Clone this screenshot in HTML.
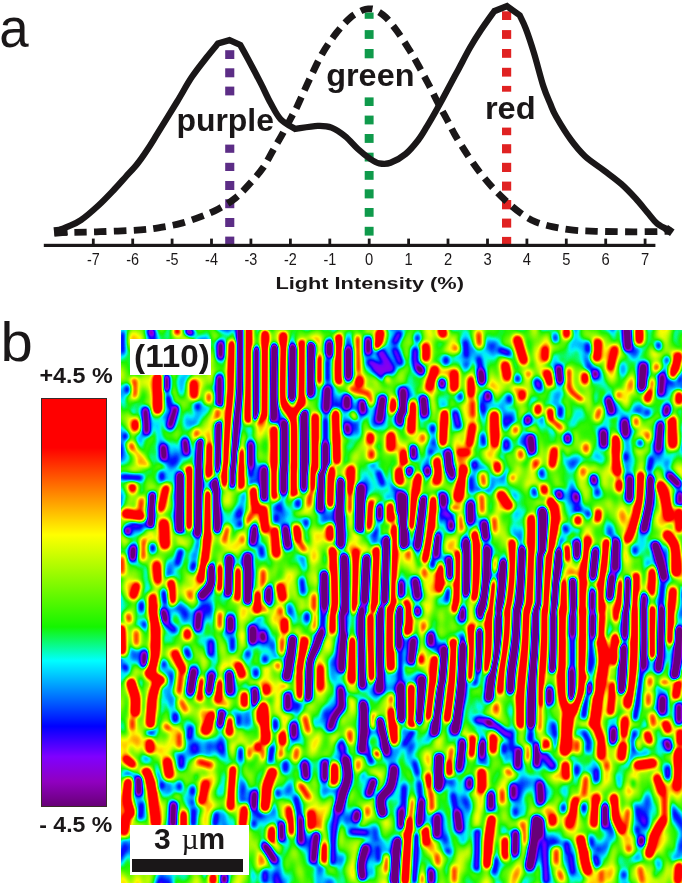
<!DOCTYPE html><html><head><meta charset="utf-8"><title>figure</title><style>
html,body{margin:0;padding:0;background:#fff;}body{width:685px;height:886px;position:relative;overflow:hidden;font-family:"Liberation Sans",sans-serif;color:#1a1718}
.abs{position:absolute}svg text{font-family:"Liberation Sans",sans-serif;opacity:0.995}
.t{position:absolute;white-space:nowrap;line-height:1;font-weight:bold}
</style></head><body>
<svg class="abs" style="left:0;top:0" width="685" height="320" viewBox="0 0 685 320">
<rect x="225.2" y="50.2" width="9.1" height="8.8" fill="#5c2d86"/><rect x="225.2" y="68.3" width="9.1" height="9.0" fill="#5c2d86"/><rect x="225.2" y="86.6" width="9.1" height="8.8" fill="#5c2d86"/><rect x="225.2" y="144.6" width="9.1" height="8.2" fill="#5c2d86"/><rect x="225.2" y="162.8" width="9.1" height="8.2" fill="#5c2d86"/><rect x="225.2" y="181.0" width="9.1" height="9.0" fill="#5c2d86"/><rect x="225.2" y="199.2" width="9.1" height="9.0" fill="#5c2d86"/><rect x="225.2" y="218.0" width="9.1" height="9.0" fill="#5c2d86"/><rect x="225.2" y="236.6" width="9.1" height="9.1" fill="#5c2d86"/>
<rect x="364.7" y="12.5" width="8.9" height="6.3" fill="#0f9a4b"/><rect x="364.7" y="30.1" width="8.9" height="8.8" fill="#0f9a4b"/><rect x="364.7" y="49.0" width="8.9" height="9.3" fill="#0f9a4b"/><rect x="364.7" y="97.4" width="8.9" height="8.6" fill="#0f9a4b"/><rect x="364.7" y="115.6" width="8.9" height="8.8" fill="#0f9a4b"/><rect x="364.7" y="134.0" width="8.9" height="8.9" fill="#0f9a4b"/><rect x="364.7" y="152.7" width="8.9" height="8.8" fill="#0f9a4b"/><rect x="364.7" y="171.0" width="8.9" height="8.8" fill="#0f9a4b"/><rect x="364.7" y="189.3" width="8.9" height="9.1" fill="#0f9a4b"/><rect x="364.7" y="208.0" width="8.9" height="8.8" fill="#0f9a4b"/><rect x="364.7" y="226.8" width="8.9" height="8.8" fill="#0f9a4b"/>
<rect x="502.0" y="11.3" width="9.2" height="8.7" fill="#e02222"/><rect x="502.0" y="30.1" width="9.2" height="8.8" fill="#e02222"/><rect x="502.0" y="49.0" width="9.2" height="8.8" fill="#e02222"/><rect x="502.0" y="67.8" width="9.2" height="8.8" fill="#e02222"/><rect x="502.0" y="85.9" width="9.2" height="5.8" fill="#e02222"/><rect x="502.0" y="127.6" width="9.2" height="7.6" fill="#e02222"/><rect x="502.0" y="144.2" width="9.2" height="9.1" fill="#e02222"/><rect x="502.0" y="162.8" width="9.2" height="9.2" fill="#e02222"/><rect x="502.0" y="181.6" width="9.2" height="9.0" fill="#e02222"/><rect x="502.0" y="200.0" width="9.2" height="9.3" fill="#e02222"/><rect x="502.0" y="218.6" width="9.2" height="9.0" fill="#e02222"/><rect x="502.0" y="236.9" width="9.2" height="9.1" fill="#e02222"/>
<rect x="43.8" y="243.8" width="611.6" height="3.2" fill="#1a1718"/>
<rect x="91.9" y="238.6" width="2.8" height="6" fill="#1a1718"/>
<text x="93.3" y="264.6" font-size="16.5" text-anchor="middle" textLength="12.8" lengthAdjust="spacingAndGlyphs" fill="#1a1718">-7</text>
<rect x="131.3" y="238.6" width="2.8" height="6" fill="#1a1718"/>
<text x="132.7" y="264.6" font-size="16.5" text-anchor="middle" textLength="12.8" lengthAdjust="spacingAndGlyphs" fill="#1a1718">-6</text>
<rect x="170.7" y="238.6" width="2.8" height="6" fill="#1a1718"/>
<text x="172.1" y="264.6" font-size="16.5" text-anchor="middle" textLength="12.8" lengthAdjust="spacingAndGlyphs" fill="#1a1718">-5</text>
<rect x="210.1" y="238.6" width="2.8" height="6" fill="#1a1718"/>
<text x="211.5" y="264.6" font-size="16.5" text-anchor="middle" textLength="12.8" lengthAdjust="spacingAndGlyphs" fill="#1a1718">-4</text>
<rect x="249.5" y="238.6" width="2.8" height="6" fill="#1a1718"/>
<text x="250.9" y="264.6" font-size="16.5" text-anchor="middle" textLength="12.8" lengthAdjust="spacingAndGlyphs" fill="#1a1718">-3</text>
<rect x="289.0" y="238.6" width="2.8" height="6" fill="#1a1718"/>
<text x="290.4" y="264.6" font-size="16.5" text-anchor="middle" textLength="12.8" lengthAdjust="spacingAndGlyphs" fill="#1a1718">-2</text>
<rect x="328.4" y="238.6" width="2.8" height="6" fill="#1a1718"/>
<text x="329.8" y="264.6" font-size="16.5" text-anchor="middle" textLength="12.8" lengthAdjust="spacingAndGlyphs" fill="#1a1718">-1</text>
<rect x="367.8" y="238.6" width="2.8" height="6" fill="#1a1718"/>
<text x="369.2" y="264.6" font-size="16.5" text-anchor="middle" textLength="8.2" lengthAdjust="spacingAndGlyphs" fill="#1a1718">0</text>
<rect x="407.2" y="238.6" width="2.8" height="6" fill="#1a1718"/>
<text x="408.6" y="264.6" font-size="16.5" text-anchor="middle" textLength="8.2" lengthAdjust="spacingAndGlyphs" fill="#1a1718">1</text>
<rect x="446.6" y="238.6" width="2.8" height="6" fill="#1a1718"/>
<text x="448.0" y="264.6" font-size="16.5" text-anchor="middle" textLength="8.2" lengthAdjust="spacingAndGlyphs" fill="#1a1718">2</text>
<rect x="486.1" y="238.6" width="2.8" height="6" fill="#1a1718"/>
<text x="487.5" y="264.6" font-size="16.5" text-anchor="middle" textLength="8.2" lengthAdjust="spacingAndGlyphs" fill="#1a1718">3</text>
<rect x="525.5" y="238.6" width="2.8" height="6" fill="#1a1718"/>
<text x="526.9" y="264.6" font-size="16.5" text-anchor="middle" textLength="8.2" lengthAdjust="spacingAndGlyphs" fill="#1a1718">4</text>
<rect x="564.9" y="238.6" width="2.8" height="6" fill="#1a1718"/>
<text x="566.3" y="264.6" font-size="16.5" text-anchor="middle" textLength="8.2" lengthAdjust="spacingAndGlyphs" fill="#1a1718">5</text>
<rect x="604.3" y="238.6" width="2.8" height="6" fill="#1a1718"/>
<text x="605.7" y="264.6" font-size="16.5" text-anchor="middle" textLength="8.2" lengthAdjust="spacingAndGlyphs" fill="#1a1718">6</text>
<rect x="643.7" y="238.6" width="2.8" height="6" fill="#1a1718"/>
<text x="645.1" y="264.6" font-size="16.5" text-anchor="middle" textLength="8.2" lengthAdjust="spacingAndGlyphs" fill="#1a1718">7</text>
<path d="M54.0,232.3C56.3,232.3 60.0,232.5 67.7,232.4C75.4,232.3 88.2,232.1 100.4,231.7C112.6,231.3 130.6,230.6 140.6,229.9C150.6,229.2 154.0,228.5 160.7,227.4C167.4,226.3 174.1,225.2 180.8,223.4C187.5,221.6 194.7,219.0 200.9,216.6C207.1,214.2 212.1,212.3 217.9,209.2C223.7,206.1 230.1,202.4 235.5,198.0C240.9,193.6 245.9,187.9 250.5,182.9C255.1,177.9 259.2,173.2 263.0,167.8C266.8,162.4 269.7,156.1 273.1,150.2C276.5,144.3 279.9,138.7 283.2,132.6C286.5,126.5 290.8,118.3 293.2,113.8C295.6,109.3 294.8,111.5 297.6,105.5C300.4,99.5 306.0,86.7 310.2,77.9C314.4,69.1 318.4,60.2 322.8,52.7C327.2,45.2 332.0,38.6 336.6,32.7C341.2,26.9 346.0,21.4 350.4,17.6C354.8,13.8 359.9,11.5 363.0,10.0C366.1,8.5 367.1,8.8 369.2,8.8C371.3,8.8 372.8,8.6 375.5,10.0C378.2,11.4 381.9,13.5 385.5,17.0C389.1,20.5 393.1,25.7 397.0,31.0C400.9,36.3 405.1,43.1 408.8,49.0C412.5,54.9 415.6,60.4 419.0,66.5C422.4,72.6 426.0,79.4 429.2,85.5C432.4,91.6 435.1,97.4 438.0,103.0C440.9,108.6 443.8,113.6 446.7,119.0C449.6,124.4 451.7,129.1 455.2,135.2C458.7,141.2 463.6,149.0 467.8,155.3C472.0,161.6 476.1,167.5 480.3,172.9C484.5,178.3 488.7,183.3 492.9,187.9C497.1,192.5 500.9,196.3 505.5,200.5C510.1,204.7 515.5,209.4 520.5,213.0C525.5,216.6 530.1,219.6 535.6,221.9C541.1,224.2 546.9,225.5 553.2,226.9C559.5,228.3 566.2,229.4 573.3,230.1C580.4,230.8 585.9,231.0 595.9,231.3C605.9,231.6 621.1,231.8 633.5,231.8C645.9,231.8 663.9,231.4 670.0,231.3" fill="none" stroke="#1a1718" stroke-width="6.8" stroke-dasharray="12.45 7.313" stroke-dashoffset="-0.62"/>
<path d="M56.0,231.5C58.0,230.7 63.6,228.6 67.7,226.7C71.9,224.8 75.8,223.6 80.9,220.1C86.0,216.6 92.7,210.7 98.4,205.5C104.1,200.3 110.3,193.6 114.9,188.8C119.5,184.0 122.3,180.6 126.0,176.5C129.7,172.4 133.6,168.5 137.2,164.0C140.8,159.5 144.2,154.5 147.5,149.5C150.8,144.5 152.2,142.1 157.1,134.2C162.0,126.3 171.1,111.5 176.9,102.0C182.7,92.5 186.8,84.5 191.8,77.1C196.8,69.6 202.3,62.9 206.7,57.3C211.0,51.7 216.0,45.9 217.9,43.6L229.5,40.2L240.2,44.9C241.5,47.2 244.6,52.7 248.0,59.0C251.4,65.3 256.8,75.6 260.6,82.9C264.4,90.2 267.2,96.9 270.6,103.0C274.0,109.1 276.6,115.0 280.7,119.3C284.8,123.6 292.7,127.4 295.1,129.0C298.9,128.5 311.6,126.1 317.7,125.9C323.8,125.7 326.9,125.8 331.5,127.6C336.1,129.3 340.9,132.8 345.3,136.4C349.7,140.0 353.7,145.2 357.9,149.0C362.1,152.8 366.8,156.6 370.4,159.0C373.9,161.4 375.8,162.7 379.2,163.3C382.6,163.9 386.1,164.4 390.5,162.8C394.9,161.2 401.0,157.8 405.6,154.0C410.2,150.2 414.5,144.8 418.1,140.2C421.7,135.6 423.8,131.6 427.0,126.4C430.2,121.2 433.9,114.7 437.2,108.8C440.5,102.9 443.2,97.9 446.7,91.3C450.2,84.7 454.5,76.7 458.4,69.4C462.3,62.1 466.3,54.1 470.1,47.5C473.9,40.9 477.0,36.0 481.0,30.0C485.0,24.0 492.0,14.3 494.2,11.2L507.0,6.1L519.7,15.3C520.7,17.5 523.4,22.3 525.8,28.6C528.2,34.9 531.1,43.6 534.0,53.1C536.9,62.6 540.5,77.3 543.2,85.8C545.9,94.3 548.2,98.9 550.4,104.0C552.5,109.1 552.7,110.6 556.1,116.5C559.5,122.4 565.8,132.8 570.6,139.4C575.4,146.0 579.4,151.0 585.0,156.2C590.6,161.4 598.3,166.1 604.3,170.7C610.3,175.3 616.0,179.3 621.2,183.9C626.4,188.5 631.2,193.6 635.6,198.4C640.0,203.2 644.1,208.6 647.7,212.8C651.3,217.0 653.5,220.7 657.3,223.7C661.1,226.7 668.3,229.7 670.5,230.9" fill="none" stroke="#1a1718" stroke-width="6.3" stroke-linejoin="miter" stroke-miterlimit="6"/>
<rect x="54" y="226.7" width="13.5" height="9.5" fill="#1a1718" transform="rotate(-6 60 231.5)"/>
<rect x="665" y="226.5" width="8" height="8" fill="#1a1718" transform="rotate(35 669 230.5)"/>
<text x="176.4" y="130.8" font-size="31" font-weight="bold" textLength="97.6" lengthAdjust="spacingAndGlyphs" fill="#1a1718">purple</text>
<text x="326.2" y="85.5" font-size="31.5" font-weight="bold" textLength="88.3" lengthAdjust="spacingAndGlyphs" fill="#1a1718">green</text>
<text x="484.9" y="118.8" font-size="31.3" font-weight="bold" textLength="50.8" lengthAdjust="spacingAndGlyphs" fill="#1a1718">red</text>
<text x="275.4" y="289" font-size="17.3" font-weight="bold" textLength="188.5" lengthAdjust="spacingAndGlyphs" fill="#1a1718">Light Intensity (%)</text>
<text x="-0.7" y="46.8" font-size="55.5" textLength="29.4" lengthAdjust="spacingAndGlyphs" fill="#1a1718">a</text>
</svg>
<svg class="abs" style="left:0;top:310px" width="60" height="70"><text x="0.4" y="50.9" font-size="55.5" textLength="32.3" lengthAdjust="spacingAndGlyphs" fill="#1a1718">b</text></svg>
<svg class="abs" style="left:0;top:355px" width="125" height="40"><text x="39.5" y="27.7" font-size="21.2" font-weight="bold" textLength="73.2" lengthAdjust="spacingAndGlyphs" fill="#1a1718">+4.5 %</text></svg>
<svg class="abs" style="left:0;top:808px" width="125" height="40"><text x="39.3" y="24" font-size="21.6" font-weight="bold" textLength="73" lengthAdjust="spacingAndGlyphs" fill="#1a1718">- 4.5 %</text></svg>
<div class="abs" style="left:40.6px;top:398.3px;width:66px;height:408.4px;box-sizing:border-box;border:1px solid #3a2a2a;background:linear-gradient(to bottom,rgb(255,0,0) 0.0%,rgb(255,0,0) 12.0%,rgb(255,255,0) 33.4%,rgb(20,245,0) 56.0%,rgb(0,255,255) 64.3%,rgb(0,0,255) 80.4%,rgb(128,0,255) 87.9%,rgb(144,0,192) 94.0%,rgb(104,0,120) 100.0%)"></div>
<div class="abs" style="left:121.0px;top:330.3px;width:561.0px;height:552.3px;overflow:hidden">
<svg style="position:absolute;left:-20px;top:-20px" width="601.0" height="592.3" viewBox="101.0 310.3 601.0 592.3">
<defs><filter id="hm" filterUnits="userSpaceOnUse" x="101.0" y="310.3" width="601.0" height="592.3" color-interpolation-filters="sRGB">
<feTurbulence type="fractalNoise" baseFrequency="0.055 0.03" numOctaves="2" seed="7" result="n"/>
<feColorMatrix in="n" type="matrix" values="0.85 0 0 0 0.045  0.85 0 0 0 0.045  0.85 0 0 0 0.045  0 0 0 0 1" result="ng"/>
<feComposite in="SourceGraphic" in2="ng" operator="over" result="m"/>
<feGaussianBlur in="m" stdDeviation="2.0" result="bl"/>
<feComponentTransfer in="bl"><feFuncR type="table" tableValues="0.408 0.408 0.408 0.408 0.408 0.408 0.408 0.477 0.545 0.545 0.518 0.431 0.255 0.079 0.000 0.000 0.000 0.000 0.000 0.000 0.011 0.036 0.061 0.108 0.216 0.323 0.430 0.538 0.645 0.752 0.860 0.967 1.000 1.000 1.000 1.000 1.000 1.000 1.000 1.000 1.000 1.000 1.000 1.000 1.000 1.000 1.000 1.000 1.000 1.000 1.000"/><feFuncG type="table" tableValues="0.000 0.000 0.000 0.000 0.000 0.000 0.000 0.000 0.000 0.000 0.000 0.000 0.000 0.000 0.090 0.254 0.417 0.581 0.744 0.907 0.995 0.982 0.970 0.962 0.967 0.971 0.976 0.980 0.985 0.989 0.994 0.999 0.915 0.792 0.669 0.546 0.423 0.300 0.177 0.054 0.000 0.000 0.000 0.000 0.000 0.000 0.000 0.000 0.000 0.000 0.000"/><feFuncB type="table" tableValues="0.471 0.471 0.471 0.471 0.471 0.471 0.471 0.594 0.718 0.830 0.936 1.000 1.000 1.000 1.000 1.000 1.000 1.000 1.000 1.000 0.862 0.545 0.228 0.000 0.000 0.000 0.000 0.000 0.000 0.000 0.000 0.000 0.000 0.000 0.000 0.000 0.000 0.000 0.000 0.000 0.000 0.000 0.000 0.000 0.000 0.000 0.000 0.000 0.000 0.000 0.000"/></feComponentTransfer>
</filter></defs>
<g filter="url(#hm)" fill="none" stroke-linecap="round" stroke-linejoin="round">
<rect x="101.0" y="310.3" width="1" height="1" fill="none" stroke="none"/>
<path d="M157.8,378.0L157.8,409.7" stroke="rgb(181,181,181)" stroke-width="9.6"/>
<path d="M193.6,383.5L194.0,395.4" stroke="rgb(181,181,181)" stroke-width="11.5"/>
<path d="M232.0,344.3C231.7,352.1 231.1,376.7 230.4,391.3C229.6,406.0 228.1,419.1 227.3,432.2C226.4,445.3 225.6,463.7 225.3,470.0" stroke="rgb(181,181,181)" stroke-width="8.7"/>
<path d="M248.3,330.0L248.3,419.9" stroke="rgb(181,181,181)" stroke-width="9.1"/>
<path d="M209.9,446.5L209.9,470.0" stroke="rgb(181,181,181)" stroke-width="11.5"/>
<path d="M241.0,452.6L241.0,470.0" stroke="rgb(181,181,181)" stroke-width="11.5"/>
<path d="M135.3,423.0L135.3,428.1" stroke="rgb(181,181,181)" stroke-width="10.8"/>
<path d="M134.3,381.1L134.3,395.4" stroke="rgb(162,162,162)" stroke-width="10.8"/>
<path d="M177.2,331.0L177.2,332.0" stroke="rgb(181,181,181)" stroke-width="10.1"/>
<path d="M166.0,378.0L166.0,389.3" stroke="rgb(74,74,74)" stroke-width="10.8"/>
<path d="M145.5,410.7L146.6,432.2" stroke="rgb(74,74,74)" stroke-width="10.8"/>
<path d="M175.2,408.7L170.1,426.1" stroke="rgb(74,74,74)" stroke-width="10.8"/>
<path d="M163.3,447.5L163.9,457.7" stroke="rgb(74,74,74)" stroke-width="11.5"/>
<path d="M220.6,344.3L220.6,356.6" stroke="rgb(74,74,74)" stroke-width="10.8"/>
<path d="M219.5,378.0L219.5,405.6" stroke="rgb(74,74,74)" stroke-width="10.8"/>
<path d="M240.2,330.0C240.1,340.2 240.2,376.0 239.6,391.3C238.9,406.6 237.5,408.9 236.5,422.0C235.5,435.1 233.9,462.0 233.4,470.0" stroke="rgb(74,74,74)" stroke-width="8.8"/>
<path d="M256.5,350.4L255.9,417.9" stroke="rgb(74,74,74)" stroke-width="8.8"/>
<path d="M250.8,444.4L250.8,470.0" stroke="rgb(74,74,74)" stroke-width="10.8"/>
<path d="M200.1,441.4L198.7,470.0" stroke="rgb(74,74,74)" stroke-width="8.8"/>
<path d="M185.0,441.4L186.4,452.6" stroke="rgb(74,74,74)" stroke-width="10.8"/>
<path d="M218.5,423.0L217.7,470.0" stroke="rgb(74,74,74)" stroke-width="8.8"/>
<path d="M265.1,334.1L265.1,415.8" stroke="rgb(181,181,181)" stroke-width="9.6"/>
<path d="M283.5,336.1C283.4,346.3 281.7,384.5 282.9,397.4C284.1,410.4 288.9,409.0 290.7,413.8C292.5,418.6 293.2,416.7 293.7,426.1C294.2,435.4 293.7,462.7 293.7,470.0" stroke="rgb(181,181,181)" stroke-width="9.6"/>
<path d="M301.9,344.3C301.9,353.2 302.7,386.2 301.9,397.4C301.0,408.7 297.6,409.4 296.8,411.7" stroke="rgb(181,181,181)" stroke-width="9.6"/>
<path d="M319.3,358.6L319.3,381.1" stroke="rgb(181,181,181)" stroke-width="10.8"/>
<path d="M338.7,338.2L338.7,381.1" stroke="rgb(181,181,181)" stroke-width="9.6"/>
<path d="M357.7,338.2L358.1,370.9" stroke="rgb(162,162,162)" stroke-width="7.9"/>
<path d="M359.1,380.1L359.1,384.2" stroke="rgb(181,181,181)" stroke-width="12.3"/>
<path d="M380.2,333.1L377.5,347.4" stroke="rgb(181,181,181)" stroke-width="12.3"/>
<path d="M274.3,430.1L274.3,470.0" stroke="rgb(181,181,181)" stroke-width="9.6"/>
<path d="M315.2,417.9L315.2,470.0" stroke="rgb(181,181,181)" stroke-width="9.6"/>
<path d="M335.6,413.8L336.6,460.8" stroke="rgb(181,181,181)" stroke-width="9.6"/>
<path d="M393.9,402.6L393.9,409.7" stroke="rgb(181,181,181)" stroke-width="12.3"/>
<path d="M390.8,436.3L390.8,447.5" stroke="rgb(181,181,181)" stroke-width="12.3"/>
<path d="M370.4,436.3L370.4,441.4" stroke="rgb(181,181,181)" stroke-width="10.8"/>
<path d="M371.4,452.6L371.4,456.7" stroke="rgb(162,162,162)" stroke-width="12.3"/>
<path d="M260.0,417.9L260.0,422.0" stroke="rgb(181,181,181)" stroke-width="10.1"/>
<path d="M368.3,393.4L370.4,401.5" stroke="rgb(162,162,162)" stroke-width="10.1"/>
<path d="M274.3,348.4L273.3,417.9" stroke="rgb(74,74,74)" stroke-width="10.7"/>
<path d="M292.7,348.4L291.7,397.4" stroke="rgb(74,74,74)" stroke-width="10.7"/>
<path d="M311.1,346.3L310.1,393.4" stroke="rgb(74,74,74)" stroke-width="10.7"/>
<path d="M329.5,344.3L329.5,354.5" stroke="rgb(74,74,74)" stroke-width="12.3"/>
<path d="M327.4,389.3L326.4,409.7" stroke="rgb(74,74,74)" stroke-width="12.3"/>
<path d="M348.3,350.4L348.3,377.0" stroke="rgb(74,74,74)" stroke-width="12.3"/>
<path d="M346.9,398.5L346.9,406.6" stroke="rgb(74,74,74)" stroke-width="12.3"/>
<path d="M362.2,402.6L363.2,411.7" stroke="rgb(74,74,74)" stroke-width="10.8"/>
<path d="M382.6,399.5L379.6,419.9" stroke="rgb(74,74,74)" stroke-width="12.3"/>
<path d="M384.7,358.6L385.1,363.7" stroke="rgb(74,74,74)" stroke-width="10.1"/>
<path d="M284.5,424.0L284.5,470.0" stroke="rgb(74,74,74)" stroke-width="10.7"/>
<path d="M303.9,413.8L304.6,470.0" stroke="rgb(74,74,74)" stroke-width="10.7"/>
<path d="M325.4,444.4L325.4,470.0" stroke="rgb(74,74,74)" stroke-width="12.3"/>
<path d="M325.4,419.9L325.4,440.4" stroke="rgb(95,95,95)" stroke-width="10.8"/>
<path d="M346.9,426.1L347.9,432.2" stroke="rgb(74,74,74)" stroke-width="10.8"/>
<path d="M368.3,340.2L368.3,352.5" stroke="rgb(74,74,74)" stroke-width="10.8"/>
<path d="M370.4,362.7L386.7,370.9" stroke="rgb(95,95,95)" stroke-width="13.7"/>
<path d="M399.0,334.1L394.9,342.3" stroke="rgb(95,95,95)" stroke-width="12.3"/>
<path d="M400.0,411.7L400.0,422.0" stroke="rgb(74,74,74)" stroke-width="12.3"/>
<path d="M425.5,347.4L425.5,357.6" stroke="rgb(181,181,181)" stroke-width="12.3"/>
<path d="M434.7,369.9L429.6,387.2" stroke="rgb(181,181,181)" stroke-width="12.3"/>
<path d="M454.2,373.9L454.2,388.2" stroke="rgb(181,181,181)" stroke-width="12.3"/>
<path d="M471.5,380.1L471.1,395.4" stroke="rgb(181,181,181)" stroke-width="10.8"/>
<path d="M412.3,405.6L411.2,430.1" stroke="rgb(181,181,181)" stroke-width="12.3"/>
<path d="M444.6,413.8L442.9,442.4" stroke="rgb(181,181,181)" stroke-width="9.6"/>
<path d="M494.4,415.8L495.0,443.4" stroke="rgb(181,181,181)" stroke-width="13.0"/>
<path d="M505.3,365.8L507.3,377.0" stroke="rgb(181,181,181)" stroke-width="12.3"/>
<path d="M517.5,340.2L523.6,360.7" stroke="rgb(181,181,181)" stroke-width="12.3"/>
<path d="M522.2,393.4L522.2,397.4" stroke="rgb(181,181,181)" stroke-width="10.8"/>
<path d="M441.9,330.0L442.9,334.1" stroke="rgb(181,181,181)" stroke-width="12.3"/>
<path d="M538.0,407.7L538.0,411.7" stroke="rgb(181,181,181)" stroke-width="10.8"/>
<path d="M472.6,426.1L469.5,444.4" stroke="rgb(181,181,181)" stroke-width="10.8"/>
<path d="M472.6,402.6L472.6,415.8" stroke="rgb(162,162,162)" stroke-width="11.5"/>
<path d="M459.3,452.6L467.4,452.6" stroke="rgb(181,181,181)" stroke-width="10.8"/>
<path d="M404.1,453.6L404.1,462.8" stroke="rgb(181,181,181)" stroke-width="12.3"/>
<path d="M437.2,461.8L437.2,470.0" stroke="rgb(181,181,181)" stroke-width="12.3"/>
<path d="M515.5,429.1L515.5,431.2" stroke="rgb(162,162,162)" stroke-width="10.8"/>
<path d="M528.3,373.9L528.8,375.0" stroke="rgb(162,162,162)" stroke-width="10.1"/>
<path d="M478.7,334.1L479.3,344.3" stroke="rgb(162,162,162)" stroke-width="10.8"/>
<path d="M520.6,452.6L521.0,456.7" stroke="rgb(162,162,162)" stroke-width="10.8"/>
<path d="M422.5,436.3L422.9,440.4" stroke="rgb(162,162,162)" stroke-width="10.1"/>
<path d="M535.9,462.8L535.9,466.9" stroke="rgb(162,162,162)" stroke-width="12.3"/>
<path d="M497.1,464.9L497.7,470.0" stroke="rgb(181,181,181)" stroke-width="10.8"/>
<path d="M455.2,347.4L455.6,349.4" stroke="rgb(162,162,162)" stroke-width="10.1"/>
<path d="M415.3,350.4C415.3,352.5 414.5,359.3 415.3,362.7C416.2,366.1 419.6,369.5 420.4,370.9" stroke="rgb(95,95,95)" stroke-width="12.3"/>
<path d="M418.4,367.8L421.5,371.9" stroke="rgb(74,74,74)" stroke-width="10.8"/>
<path d="M446.0,358.6L446.0,362.7" stroke="rgb(95,95,95)" stroke-width="10.8"/>
<path d="M441.9,382.1L441.9,385.2" stroke="rgb(74,74,74)" stroke-width="10.8"/>
<path d="M465.4,342.3L466.4,356.6" stroke="rgb(95,95,95)" stroke-width="10.8"/>
<path d="M480.7,370.9L481.7,381.1" stroke="rgb(74,74,74)" stroke-width="12.3"/>
<path d="M478.7,358.6L480.7,368.8" stroke="rgb(95,95,95)" stroke-width="10.8"/>
<path d="M487.9,394.4L487.9,398.5" stroke="rgb(74,74,74)" stroke-width="10.8"/>
<path d="M423.5,399.5L424.5,413.8" stroke="rgb(74,74,74)" stroke-width="12.3"/>
<path d="M403.1,391.3L403.1,411.7" stroke="rgb(74,74,74)" stroke-width="12.3"/>
<path d="M455.2,413.8L458.2,426.1" stroke="rgb(95,95,95)" stroke-width="12.3"/>
<path d="M432.7,427.1L432.7,431.2" stroke="rgb(95,95,95)" stroke-width="10.8"/>
<path d="M460.3,395.4L460.3,398.5" stroke="rgb(95,95,95)" stroke-width="10.1"/>
<path d="M500.1,350.4L508.3,353.5" stroke="rgb(95,95,95)" stroke-width="11.5"/>
<path d="M517.5,378.0L517.5,380.1" stroke="rgb(95,95,95)" stroke-width="10.8"/>
<path d="M509.3,397.4L509.3,401.5" stroke="rgb(95,95,95)" stroke-width="10.8"/>
<path d="M527.7,418.9L527.7,422.0" stroke="rgb(74,74,74)" stroke-width="10.8"/>
<path d="M530.8,438.3L531.8,450.6" stroke="rgb(74,74,74)" stroke-width="12.3"/>
<path d="M506.3,442.4L506.3,447.5" stroke="rgb(95,95,95)" stroke-width="12.3"/>
<path d="M413.3,448.5L413.3,456.7" stroke="rgb(74,74,74)" stroke-width="10.8"/>
<path d="M448.0,453.6L449.0,470.0" stroke="rgb(74,74,74)" stroke-width="12.3"/>
<path d="M474.6,463.9L474.6,466.9" stroke="rgb(95,95,95)" stroke-width="12.3"/>
<path d="M536.9,382.1L538.0,386.2" stroke="rgb(95,95,95)" stroke-width="12.3"/>
<path d="M417.4,337.2L417.4,340.2" stroke="rgb(95,95,95)" stroke-width="10.1"/>
<path d="M482.8,436.3L483.8,444.4" stroke="rgb(95,95,95)" stroke-width="10.1"/>
<path d="M430.7,450.6L430.7,453.6" stroke="rgb(95,95,95)" stroke-width="10.1"/>
<path d="M597.6,343.3L596.8,357.6" stroke="rgb(181,181,181)" stroke-width="12.3"/>
<path d="M614.6,349.4L610.5,367.8" stroke="rgb(181,181,181)" stroke-width="10.8"/>
<path d="M547.2,373.9L549.2,382.1" stroke="rgb(181,181,181)" stroke-width="12.3"/>
<path d="M585.0,376.0L585.0,381.1" stroke="rgb(181,181,181)" stroke-width="10.8"/>
<path d="M568.6,370.9C568.8,373.9 567.6,384.5 569.6,389.3C571.7,394.0 579.0,397.8 580.9,399.5" stroke="rgb(162,162,162)" stroke-width="7.9"/>
<path d="M545.1,349.4L545.1,358.6" stroke="rgb(181,181,181)" stroke-width="10.8"/>
<path d="M566.6,331.0L566.6,335.1" stroke="rgb(181,181,181)" stroke-width="10.8"/>
<path d="M639.1,331.0L639.1,340.2" stroke="rgb(181,181,181)" stroke-width="12.3"/>
<path d="M678.0,356.6L673.9,373.9" stroke="rgb(181,181,181)" stroke-width="12.3"/>
<path d="M649.3,391.3L647.3,399.5" stroke="rgb(181,181,181)" stroke-width="10.8"/>
<path d="M679.0,395.4L679.0,401.5" stroke="rgb(181,181,181)" stroke-width="10.8"/>
<path d="M671.8,420.9L672.8,444.4" stroke="rgb(181,181,181)" stroke-width="13.0"/>
<path d="M616.0,439.3L616.6,470.0" stroke="rgb(181,181,181)" stroke-width="9.6"/>
<path d="M550.2,411.7L551.2,419.9" stroke="rgb(181,181,181)" stroke-width="10.8"/>
<path d="M552.3,419.9L560.4,428.1" stroke="rgb(162,162,162)" stroke-width="10.8"/>
<path d="M554.3,450.6L552.3,464.9" stroke="rgb(181,181,181)" stroke-width="10.8"/>
<path d="M656.5,366.8L656.5,368.8" stroke="rgb(162,162,162)" stroke-width="10.8"/>
<path d="M618.7,394.4L618.7,396.4" stroke="rgb(162,162,162)" stroke-width="10.1"/>
<path d="M636.1,419.9L636.1,424.0" stroke="rgb(162,162,162)" stroke-width="10.1"/>
<path d="M586.0,446.5L586.0,450.6" stroke="rgb(162,162,162)" stroke-width="10.8"/>
<path d="M599.3,410.7L597.2,417.9" stroke="rgb(162,162,162)" stroke-width="10.1"/>
<path d="M647.3,434.2L647.3,438.3" stroke="rgb(162,162,162)" stroke-width="10.1"/>
<path d="M651.4,382.1L651.4,386.2" stroke="rgb(162,162,162)" stroke-width="10.1"/>
<path d="M626.9,330.0L627.9,347.4" stroke="rgb(74,74,74)" stroke-width="13.0"/>
<path d="M643.2,366.8L641.8,387.2" stroke="rgb(74,74,74)" stroke-width="13.0"/>
<path d="M558.8,368.8L560.0,381.1" stroke="rgb(74,74,74)" stroke-width="11.5"/>
<path d="M587.4,345.3L588.0,351.5" stroke="rgb(95,95,95)" stroke-width="10.8"/>
<path d="M595.2,372.9L595.2,376.0" stroke="rgb(74,74,74)" stroke-width="10.8"/>
<path d="M608.5,400.5L611.5,411.7" stroke="rgb(74,74,74)" stroke-width="11.5"/>
<path d="M624.8,423.0L625.4,434.2" stroke="rgb(74,74,74)" stroke-width="12.3"/>
<path d="M603.4,433.2L603.8,444.4" stroke="rgb(74,74,74)" stroke-width="12.3"/>
<path d="M567.6,437.3L567.6,440.4" stroke="rgb(74,74,74)" stroke-width="10.8"/>
<path d="M560.4,408.7L560.0,415.8" stroke="rgb(95,95,95)" stroke-width="10.8"/>
<path d="M662.2,376.0L661.0,393.4" stroke="rgb(74,74,74)" stroke-width="10.8"/>
<path d="M667.1,407.7L666.3,413.8" stroke="rgb(74,74,74)" stroke-width="10.8"/>
<path d="M660.6,425.0L658.5,449.6" stroke="rgb(74,74,74)" stroke-width="11.5"/>
<path d="M651.4,458.8L649.3,470.0" stroke="rgb(95,95,95)" stroke-width="10.8"/>
<path d="M625.8,454.7L625.8,459.8" stroke="rgb(95,95,95)" stroke-width="10.8"/>
<path d="M647.3,411.7L647.3,414.2" stroke="rgb(95,95,95)" stroke-width="10.1"/>
<path d="M658.5,344.3L658.5,347.4" stroke="rgb(95,95,95)" stroke-width="10.1"/>
<path d="M555.3,336.1L555.3,340.2" stroke="rgb(95,95,95)" stroke-width="9.4"/>
<path d="M640.1,442.4L640.1,444.4" stroke="rgb(95,95,95)" stroke-width="10.1"/>
<path d="M540.0,383.1L540.0,389.3" stroke="rgb(95,95,95)" stroke-width="10.1"/>
<path d="M667.1,359.6L667.1,361.7" stroke="rgb(95,95,95)" stroke-width="9.4"/>
<path d="M679.6,377.0L679.6,383.1" stroke="rgb(95,95,95)" stroke-width="9.4"/>
<path d="M189.5,470.0L189.5,526.2" stroke="rgb(181,181,181)" stroke-width="9.6"/>
<path d="M208.3,494.5C207.9,504.1 207.1,537.6 205.8,551.7C204.6,565.9 201.6,574.7 200.7,579.3" stroke="rgb(181,181,181)" stroke-width="9.6"/>
<path d="M163.9,524.2L165.0,544.6" stroke="rgb(181,181,181)" stroke-width="13.7"/>
<path d="M132.3,486.3L132.7,489.4" stroke="rgb(181,181,181)" stroke-width="10.8"/>
<path d="M126.1,513.9L140.4,516.0" stroke="rgb(181,181,181)" stroke-width="13.0"/>
<path d="M141.5,500.7L140.4,510.9" stroke="rgb(162,162,162)" stroke-width="10.8"/>
<path d="M166.0,488.4L160.9,508.8" stroke="rgb(181,181,181)" stroke-width="10.8"/>
<path d="M253.9,491.5L255.9,509.9" stroke="rgb(181,181,181)" stroke-width="12.3"/>
<path d="M252.8,512.9L246.7,523.1" stroke="rgb(162,162,162)" stroke-width="10.8"/>
<path d="M240.6,470.0L240.6,485.3" stroke="rgb(181,181,181)" stroke-width="12.3"/>
<path d="M225.3,470.0L225.3,483.3" stroke="rgb(181,181,181)" stroke-width="12.3"/>
<path d="M208.3,470.0L208.3,474.1" stroke="rgb(181,181,181)" stroke-width="12.3"/>
<path d="M220.1,569.1L220.1,587.5" stroke="rgb(181,181,181)" stroke-width="12.3"/>
<path d="M237.5,572.2L237.5,596.7" stroke="rgb(181,181,181)" stroke-width="12.3"/>
<path d="M156.8,565.0L157.8,580.4" stroke="rgb(181,181,181)" stroke-width="11.5"/>
<path d="M136.3,586.5L133.3,595.7" stroke="rgb(181,181,181)" stroke-width="11.5"/>
<path d="M171.1,583.4L172.1,600.8" stroke="rgb(181,181,181)" stroke-width="11.5"/>
<path d="M152.7,597.7L152.7,610.0" stroke="rgb(181,181,181)" stroke-width="11.5"/>
<path d="M257.3,595.7L257.3,610.0" stroke="rgb(181,181,181)" stroke-width="12.3"/>
<path d="M144.1,540.5L142.9,557.9" stroke="rgb(162,162,162)" stroke-width="10.1"/>
<path d="M122.0,558.9L122.0,572.2" stroke="rgb(162,162,162)" stroke-width="10.8"/>
<path d="M227.3,529.3L224.2,541.5" stroke="rgb(162,162,162)" stroke-width="10.1"/>
<path d="M242.6,538.5L242.6,541.5" stroke="rgb(162,162,162)" stroke-width="10.1"/>
<path d="M189.5,592.6L190.5,597.7" stroke="rgb(162,162,162)" stroke-width="10.1"/>
<path d="M180.3,476.1L179.7,529.3" stroke="rgb(74,74,74)" stroke-width="10.7"/>
<path d="M198.7,470.0L197.7,533.4" stroke="rgb(74,74,74)" stroke-width="10.7"/>
<path d="M215.0,482.3L217.1,529.3" stroke="rgb(74,74,74)" stroke-width="9.7"/>
<path d="M232.0,470.0L232.0,484.3" stroke="rgb(74,74,74)" stroke-width="11.5"/>
<path d="M152.3,495.5L150.7,525.2" stroke="rgb(74,74,74)" stroke-width="8.8"/>
<path d="M133.3,548.7L132.7,557.9" stroke="rgb(74,74,74)" stroke-width="11.5"/>
<path d="M152.7,546.6L152.7,550.1" stroke="rgb(95,95,95)" stroke-width="10.8"/>
<path d="M127.2,530.3L127.8,532.3" stroke="rgb(74,74,74)" stroke-width="10.8"/>
<path d="M210.9,568.1C210.9,570.8 212.5,579.9 210.9,584.4C209.4,589.0 203.3,593.8 201.7,595.7" stroke="rgb(74,74,74)" stroke-width="10.7"/>
<path d="M229.3,558.9L228.3,592.6" stroke="rgb(74,74,74)" stroke-width="10.7"/>
<path d="M247.7,556.9L247.7,600.8" stroke="rgb(74,74,74)" stroke-width="10.7"/>
<path d="M254.9,528.2L252.8,542.6" stroke="rgb(74,74,74)" stroke-width="11.5"/>
<path d="M240.6,523.1L239.6,525.2" stroke="rgb(95,95,95)" stroke-width="10.8"/>
<path d="M180.7,551.7L177.2,564.0" stroke="rgb(95,95,95)" stroke-width="10.8"/>
<path d="M194.0,564.0L192.6,569.1" stroke="rgb(95,95,95)" stroke-width="10.8"/>
<path d="M122.0,477.2L140.4,478.2" stroke="rgb(95,95,95)" stroke-width="10.8"/>
<path d="M161.9,474.1L161.9,479.2" stroke="rgb(95,95,95)" stroke-width="10.8"/>
<path d="M141.5,603.9L141.5,610.0" stroke="rgb(95,95,95)" stroke-width="10.8"/>
<path d="M163.9,592.6L165.0,602.8" stroke="rgb(95,95,95)" stroke-width="10.8"/>
<path d="M250.8,470.0L250.8,476.1" stroke="rgb(95,95,95)" stroke-width="10.8"/>
<path d="M274.3,470.0L274.3,495.5" stroke="rgb(181,181,181)" stroke-width="12.3"/>
<path d="M293.7,470.0L293.7,493.5" stroke="rgb(181,181,181)" stroke-width="12.3"/>
<path d="M313.1,470.0L312.7,488.4" stroke="rgb(181,181,181)" stroke-width="12.3"/>
<path d="M311.1,490.4L309.0,504.7" stroke="rgb(162,162,162)" stroke-width="10.8"/>
<path d="M331.1,470.0L330.5,503.7" stroke="rgb(181,181,181)" stroke-width="9.6"/>
<path d="M350.9,470.0L349.9,492.5" stroke="rgb(181,181,181)" stroke-width="12.3"/>
<path d="M349.9,494.5L349.9,510.9" stroke="rgb(162,162,162)" stroke-width="10.8"/>
<path d="M399.0,472.0L399.0,480.2" stroke="rgb(181,181,181)" stroke-width="12.3"/>
<path d="M263.1,509.9L265.1,529.3" stroke="rgb(181,181,181)" stroke-width="12.3"/>
<path d="M275.3,531.3L276.3,553.8" stroke="rgb(181,181,181)" stroke-width="12.3"/>
<path d="M390.8,507.8L390.8,518.0" stroke="rgb(181,181,181)" stroke-width="13.0"/>
<path d="M371.4,503.7L368.3,527.2" stroke="rgb(181,181,181)" stroke-width="10.8"/>
<path d="M330.5,529.3L330.5,537.4" stroke="rgb(181,181,181)" stroke-width="12.3"/>
<path d="M296.4,529.3L297.8,540.5" stroke="rgb(181,181,181)" stroke-width="12.3"/>
<path d="M298.8,541.5L303.9,549.7" stroke="rgb(162,162,162)" stroke-width="10.8"/>
<path d="M332.6,550.7C332.9,556.3 334.2,574.6 334.6,584.4C335.0,594.3 335.1,605.7 335.2,610.0" stroke="rgb(181,181,181)" stroke-width="9.6"/>
<path d="M356.1,551.7L354.4,610.0" stroke="rgb(181,181,181)" stroke-width="7.9"/>
<path d="M376.5,550.7L374.4,610.0" stroke="rgb(181,181,181)" stroke-width="9.6"/>
<path d="M394.5,528.2L392.8,610.0" stroke="rgb(181,181,181)" stroke-width="8.7"/>
<path d="M280.4,587.5L282.5,597.7" stroke="rgb(181,181,181)" stroke-width="12.3"/>
<path d="M263.1,572.2L263.1,586.5" stroke="rgb(162,162,162)" stroke-width="10.8"/>
<path d="M314.2,596.7L314.2,610.0" stroke="rgb(162,162,162)" stroke-width="10.8"/>
<path d="M265.1,602.8L265.1,610.0" stroke="rgb(162,162,162)" stroke-width="10.1"/>
<path d="M264.1,470.0L264.1,497.6" stroke="rgb(74,74,74)" stroke-width="12.3"/>
<path d="M283.5,470.0L283.5,491.5" stroke="rgb(74,74,74)" stroke-width="12.3"/>
<path d="M303.9,470.0L303.9,488.4" stroke="rgb(74,74,74)" stroke-width="11.5"/>
<path d="M321.3,474.1L320.3,508.8" stroke="rgb(74,74,74)" stroke-width="9.7"/>
<path d="M340.7,482.3C340.6,487.0 339.7,500.5 339.7,510.9C339.7,521.3 340.6,539.0 340.7,544.6" stroke="rgb(74,74,74)" stroke-width="10.7"/>
<path d="M360.6,488.4L359.7,528.2" stroke="rgb(74,74,74)" stroke-width="11.6"/>
<path d="M379.6,507.8L379.6,518.0" stroke="rgb(74,74,74)" stroke-width="10.8"/>
<path d="M285.5,529.3L287.6,545.6" stroke="rgb(74,74,74)" stroke-width="12.3"/>
<path d="M276.3,516.0L276.3,521.1" stroke="rgb(95,95,95)" stroke-width="10.8"/>
<path d="M297.8,501.7L297.8,505.8" stroke="rgb(95,95,95)" stroke-width="10.8"/>
<path d="M386.7,540.5L384.7,600.8" stroke="rgb(74,74,74)" stroke-width="10.7"/>
<path d="M366.7,558.9L364.6,600.8" stroke="rgb(74,74,74)" stroke-width="10.7"/>
<path d="M344.2,557.9L344.8,610.0" stroke="rgb(74,74,74)" stroke-width="10.7"/>
<path d="M324.4,575.3L324.4,610.0" stroke="rgb(74,74,74)" stroke-width="10.7"/>
<path d="M268.6,589.6L267.8,602.8" stroke="rgb(74,74,74)" stroke-width="11.5"/>
<path d="M399.6,494.5L399.6,510.9" stroke="rgb(74,74,74)" stroke-width="10.8"/>
<path d="M261.0,547.7L262.0,555.8" stroke="rgb(95,95,95)" stroke-width="10.1"/>
<path d="M301.9,580.4L302.9,592.6" stroke="rgb(95,95,95)" stroke-width="10.1"/>
<path d="M378.5,473.1L382.6,484.3" stroke="rgb(95,95,95)" stroke-width="10.8"/>
<path d="M306.0,521.1L306.0,525.2" stroke="rgb(95,95,95)" stroke-width="10.1"/>
<path d="M418.4,477.2C417.7,481.1 415.5,492.5 414.3,500.7C413.1,508.8 411.8,521.9 411.2,526.2" stroke="rgb(181,181,181)" stroke-width="9.6"/>
<path d="M437.8,470.0L436.8,481.2" stroke="rgb(181,181,181)" stroke-width="12.3"/>
<path d="M433.7,500.7C433.2,505.8 432.0,521.4 430.7,531.3C429.3,541.2 426.4,555.2 425.5,559.9" stroke="rgb(181,181,181)" stroke-width="9.6"/>
<path d="M463.4,470.0C463.0,472.0 462.2,477.7 461.3,482.3C460.5,486.9 458.8,495.0 458.2,497.6" stroke="rgb(181,181,181)" stroke-width="11.2"/>
<path d="M501.2,495.5L508.3,505.8" stroke="rgb(181,181,181)" stroke-width="13.0"/>
<path d="M531.2,519.0C531.1,524.5 531.2,536.6 530.8,551.7C530.4,566.9 529.1,600.3 528.8,610.0" stroke="rgb(181,181,181)" stroke-width="9.6"/>
<path d="M475.2,535.4C475.4,539.8 476.7,551.7 476.6,562.0C476.5,572.2 474.9,590.9 474.6,596.7" stroke="rgb(181,181,181)" stroke-width="10.4"/>
<path d="M512.4,542.6C512.3,548.9 512.8,569.1 512.0,580.4C511.1,591.6 508.1,605.1 507.3,610.0" stroke="rgb(181,181,181)" stroke-width="8.7"/>
<path d="M458.2,553.8C458.1,558.9 457.7,575.1 457.2,584.4C456.7,593.8 455.5,605.7 455.2,610.0" stroke="rgb(181,181,181)" stroke-width="8.7"/>
<path d="M440.9,569.1L439.9,588.5" stroke="rgb(181,181,181)" stroke-width="13.0"/>
<path d="M493.0,584.4L490.9,610.0" stroke="rgb(181,181,181)" stroke-width="11.5"/>
<path d="M401.0,472.0L400.0,482.3" stroke="rgb(181,181,181)" stroke-width="10.8"/>
<path d="M406.1,602.8L408.2,610.0" stroke="rgb(181,181,181)" stroke-width="10.8"/>
<path d="M494.0,520.1L494.0,530.3" stroke="rgb(162,162,162)" stroke-width="10.8"/>
<path d="M461.3,518.0L461.3,529.3" stroke="rgb(162,162,162)" stroke-width="10.1"/>
<path d="M481.7,496.6L482.2,510.9" stroke="rgb(162,162,162)" stroke-width="10.1"/>
<path d="M453.1,507.8L458.2,507.8" stroke="rgb(162,162,162)" stroke-width="9.4"/>
<path d="M408.2,551.7L408.2,557.9" stroke="rgb(162,162,162)" stroke-width="10.1"/>
<path d="M424.5,570.1L424.5,576.3" stroke="rgb(162,162,162)" stroke-width="10.1"/>
<path d="M482.8,476.1L483.8,484.3" stroke="rgb(162,162,162)" stroke-width="10.1"/>
<path d="M495.0,562.0L495.0,568.1" stroke="rgb(162,162,162)" stroke-width="10.1"/>
<path d="M512.4,477.2L512.4,479.2" stroke="rgb(162,162,162)" stroke-width="9.4"/>
<path d="M403.1,497.6L404.1,544.6" stroke="rgb(74,74,74)" stroke-width="11.6"/>
<path d="M422.9,499.6C422.5,503.2 421.4,513.3 420.4,521.1C419.5,528.9 417.9,542.4 417.4,546.6" stroke="rgb(74,74,74)" stroke-width="9.7"/>
<path d="M442.9,496.6L443.3,504.7" stroke="rgb(74,74,74)" stroke-width="12.3"/>
<path d="M470.5,504.7L470.5,521.1" stroke="rgb(74,74,74)" stroke-width="12.3"/>
<path d="M451.1,523.1L451.1,528.2" stroke="rgb(74,74,74)" stroke-width="10.8"/>
<path d="M484.2,524.2L485.4,537.4" stroke="rgb(74,74,74)" stroke-width="12.3"/>
<path d="M437.2,536.4L435.8,555.8" stroke="rgb(74,74,74)" stroke-width="11.5"/>
<path d="M466.4,542.6L466.4,592.6" stroke="rgb(74,74,74)" stroke-width="10.7"/>
<path d="M449.0,559.9L450.1,576.3" stroke="rgb(74,74,74)" stroke-width="11.5"/>
<path d="M486.9,549.7C486.7,555.5 486.7,574.4 485.8,584.4C485.0,594.5 482.4,605.7 481.7,610.0" stroke="rgb(74,74,74)" stroke-width="10.7"/>
<path d="M503.2,564.0C502.9,568.8 501.8,585.0 501.2,592.6C500.5,600.3 499.5,607.1 499.1,610.0" stroke="rgb(74,74,74)" stroke-width="10.7"/>
<path d="M522.2,550.7C521.9,556.3 521.2,574.6 520.6,584.4C520.0,594.3 518.9,605.7 518.5,610.0" stroke="rgb(74,74,74)" stroke-width="10.7"/>
<path d="M415.3,581.4L417.4,596.7" stroke="rgb(74,74,74)" stroke-width="12.3"/>
<path d="M451.1,470.0L452.1,476.1" stroke="rgb(74,74,74)" stroke-width="11.5"/>
<path d="M427.6,470.0L427.6,473.1" stroke="rgb(74,74,74)" stroke-width="11.5"/>
<path d="M409.2,470.0L409.2,473.1" stroke="rgb(74,74,74)" stroke-width="10.8"/>
<path d="M540.0,555.8L539.0,610.0" stroke="rgb(74,74,74)" stroke-width="8.8"/>
<path d="M431.7,559.9L432.7,566.1" stroke="rgb(95,95,95)" stroke-width="10.8"/>
<path d="M401.0,583.4L401.0,594.7" stroke="rgb(74,74,74)" stroke-width="10.8"/>
<path d="M448.0,590.6L447.0,600.8" stroke="rgb(95,95,95)" stroke-width="10.1"/>
<path d="M470.5,478.2L471.5,490.4" stroke="rgb(95,95,95)" stroke-width="10.1"/>
<path d="M533.9,490.4L534.9,494.5" stroke="rgb(95,95,95)" stroke-width="10.1"/>
<path d="M551.2,501.7C551.9,504.2 555.5,508.7 555.3,517.0C555.2,525.4 551.8,536.3 550.2,551.7C548.7,567.2 546.8,600.3 546.1,610.0" stroke="rgb(181,181,181)" stroke-width="10.4"/>
<path d="M587.4,540.5C586.8,545.8 584.9,560.6 583.9,572.2C583.0,583.8 582.2,603.7 581.9,610.0" stroke="rgb(181,181,181)" stroke-width="9.6"/>
<path d="M607.0,542.6C606.1,549.5 602.3,573.2 601.3,584.4C600.4,595.7 601.3,605.7 601.3,610.0" stroke="rgb(181,181,181)" stroke-width="9.6"/>
<path d="M640.6,476.1C640.3,480.2 640.4,492.1 639.1,500.7C637.9,509.2 634.9,520.8 633.0,527.2C631.1,533.7 628.7,537.4 627.9,539.5" stroke="rgb(181,181,181)" stroke-width="9.6"/>
<path d="M660.6,486.3C661.3,488.1 663.3,491.5 664.7,496.6C666.0,501.7 668.1,513.6 668.8,517.0" stroke="rgb(181,181,181)" stroke-width="11.2"/>
<path d="M667.7,535.4C668.9,537.4 673.5,541.5 674.9,547.7C676.2,553.8 675.7,568.1 675.9,572.2" stroke="rgb(181,181,181)" stroke-width="11.2"/>
<path d="M567.6,548.7L567.6,557.9" stroke="rgb(181,181,181)" stroke-width="11.5"/>
<path d="M563.5,583.4L563.5,610.0" stroke="rgb(181,181,181)" stroke-width="12.3"/>
<path d="M620.1,583.4L618.7,610.0" stroke="rgb(181,181,181)" stroke-width="11.5"/>
<path d="M652.4,572.2L651.4,592.6" stroke="rgb(181,181,181)" stroke-width="11.5"/>
<path d="M636.1,576.3L634.4,610.0" stroke="rgb(181,181,181)" stroke-width="8.7"/>
<path d="M672.8,591.6L670.8,610.0" stroke="rgb(181,181,181)" stroke-width="12.3"/>
<path d="M619.7,483.3L619.7,488.4" stroke="rgb(181,181,181)" stroke-width="11.5"/>
<path d="M617.7,470.0L617.7,473.1" stroke="rgb(181,181,181)" stroke-width="11.5"/>
<path d="M577.8,519.0L577.8,522.1" stroke="rgb(181,181,181)" stroke-width="10.8"/>
<path d="M598.2,512.9L597.6,519.0" stroke="rgb(181,181,181)" stroke-width="10.8"/>
<path d="M544.1,488.4L544.5,491.5" stroke="rgb(181,181,181)" stroke-width="10.8"/>
<path d="M679.0,510.9L679.0,529.3" stroke="rgb(181,181,181)" stroke-width="10.8"/>
<path d="M582.9,470.0L582.9,474.1" stroke="rgb(162,162,162)" stroke-width="10.1"/>
<path d="M542.5,511.9L543.1,549.7" stroke="rgb(74,74,74)" stroke-width="11.6"/>
<path d="M558.4,552.8C557.9,557.7 556.2,572.9 555.3,582.4C554.5,591.9 553.6,605.4 553.3,610.0" stroke="rgb(74,74,74)" stroke-width="10.7"/>
<path d="M576.8,543.6L577.2,555.8" stroke="rgb(74,74,74)" stroke-width="12.3"/>
<path d="M595.2,551.7L593.1,576.3" stroke="rgb(74,74,74)" stroke-width="12.3"/>
<path d="M615.6,542.6L615.2,568.1" stroke="rgb(74,74,74)" stroke-width="13.0"/>
<path d="M611.9,577.3L609.5,596.7" stroke="rgb(74,74,74)" stroke-width="12.3"/>
<path d="M629.9,479.2L629.5,498.6" stroke="rgb(74,74,74)" stroke-width="12.3"/>
<path d="M650.4,479.2C650.2,483.1 650.4,494.4 649.3,502.7C648.3,511.0 645.1,524.8 644.2,529.3" stroke="rgb(74,74,74)" stroke-width="9.7"/>
<path d="M655.5,545.6C656.2,548.0 658.2,554.6 659.6,559.9C660.9,565.2 663.0,574.4 663.6,577.3" stroke="rgb(74,74,74)" stroke-width="10.7"/>
<path d="M669.8,476.1L678.0,484.3" stroke="rgb(74,74,74)" stroke-width="11.5"/>
<path d="M558.8,493.5L559.4,496.6" stroke="rgb(74,74,74)" stroke-width="10.8"/>
<path d="M593.5,478.2L594.2,482.3" stroke="rgb(74,74,74)" stroke-width="10.8"/>
<path d="M575.8,495.5L576.4,499.6" stroke="rgb(74,74,74)" stroke-width="10.8"/>
<path d="M597.2,490.4L597.2,494.5" stroke="rgb(95,95,95)" stroke-width="10.1"/>
<path d="M572.7,581.4L573.7,610.0" stroke="rgb(74,74,74)" stroke-width="9.7"/>
<path d="M592.7,592.6L592.1,610.0" stroke="rgb(74,74,74)" stroke-width="10.8"/>
<path d="M627.9,580.4L626.9,610.0" stroke="rgb(74,74,74)" stroke-width="8.8"/>
<path d="M644.2,596.7L643.2,610.0" stroke="rgb(74,74,74)" stroke-width="10.8"/>
<path d="M662.6,584.4L660.6,610.0" stroke="rgb(95,95,95)" stroke-width="10.8"/>
<path d="M587.0,512.9L589.0,515.0" stroke="rgb(95,95,95)" stroke-width="10.1"/>
<path d="M541.0,471.0L542.0,476.1" stroke="rgb(95,95,95)" stroke-width="10.1"/>
<path d="M635.0,548.7L635.0,552.8" stroke="rgb(95,95,95)" stroke-width="10.1"/>
<path d="M564.5,527.2L566.6,531.3" stroke="rgb(95,95,95)" stroke-width="10.1"/>
<path d="M680.0,494.5L680.0,502.7" stroke="rgb(74,74,74)" stroke-width="10.1"/>
<path d="M153.7,610.0C154.1,615.1 155.8,632.1 155.8,640.7C155.8,649.2 154.7,655.6 153.7,661.1C152.7,666.5 150.3,671.3 149.6,673.4" stroke="rgb(181,181,181)" stroke-width="11.2"/>
<path d="M150.7,675.4L160.9,680.5" stroke="rgb(181,181,181)" stroke-width="12.3"/>
<path d="M156.8,683.6C155.9,686.6 152.7,695.2 151.7,702.0C150.7,708.8 150.8,720.7 150.7,724.4" stroke="rgb(181,181,181)" stroke-width="10.4"/>
<path d="M131.2,683.6C131.9,686.0 134.6,693.1 135.3,697.9C136.0,702.6 135.3,709.8 135.3,712.2" stroke="rgb(181,181,181)" stroke-width="11.2"/>
<path d="M121.0,629.4L122.0,650.9" stroke="rgb(181,181,181)" stroke-width="12.3"/>
<path d="M175.2,653.9C175.9,655.5 177.9,660.2 179.3,663.1C180.6,666.0 182.7,669.9 183.4,671.3" stroke="rgb(181,181,181)" stroke-width="11.5"/>
<path d="M181.3,673.4L179.3,691.7" stroke="rgb(162,162,162)" stroke-width="11.5"/>
<path d="M212.0,716.3L205.8,730.6" stroke="rgb(181,181,181)" stroke-width="13.7"/>
<path d="M229.3,721.4L229.3,732.6" stroke="rgb(181,181,181)" stroke-width="11.5"/>
<path d="M219.7,683.6L218.1,699.9" stroke="rgb(181,181,181)" stroke-width="11.5"/>
<path d="M201.3,681.5L199.7,697.9" stroke="rgb(181,181,181)" stroke-width="10.8"/>
<path d="M238.5,666.2L241.6,674.4" stroke="rgb(181,181,181)" stroke-width="12.3"/>
<path d="M244.7,695.8L244.7,704.0" stroke="rgb(181,181,181)" stroke-width="11.5"/>
<path d="M187.4,632.5L187.4,636.6" stroke="rgb(181,181,181)" stroke-width="10.8"/>
<path d="M220.1,615.1L220.1,626.3" stroke="rgb(162,162,162)" stroke-width="10.8"/>
<path d="M149.6,742.8L149.6,750.0" stroke="rgb(181,181,181)" stroke-width="11.5"/>
<path d="M179.3,734.7L179.3,745.9" stroke="rgb(162,162,162)" stroke-width="10.8"/>
<path d="M132.3,720.4L132.3,728.5" stroke="rgb(162,162,162)" stroke-width="10.8"/>
<path d="M128.2,616.1L129.2,620.2" stroke="rgb(162,162,162)" stroke-width="10.8"/>
<path d="M166.0,726.5L169.0,728.5" stroke="rgb(162,162,162)" stroke-width="10.8"/>
<path d="M136.3,632.5L136.3,643.7" stroke="rgb(162,162,162)" stroke-width="10.1"/>
<path d="M181.3,702.0L185.4,710.1" stroke="rgb(162,162,162)" stroke-width="10.1"/>
<path d="M260.0,708.1L260.0,720.4" stroke="rgb(181,181,181)" stroke-width="10.1"/>
<path d="M163.3,612.0L166.0,622.3" stroke="rgb(74,74,74)" stroke-width="11.5"/>
<path d="M167.0,624.3L174.2,630.4" stroke="rgb(95,95,95)" stroke-width="11.5"/>
<path d="M198.7,614.1L197.7,628.4" stroke="rgb(74,74,74)" stroke-width="11.5"/>
<path d="M230.4,619.2L230.4,629.4" stroke="rgb(74,74,74)" stroke-width="12.3"/>
<path d="M232.4,638.6L232.4,649.9" stroke="rgb(95,95,95)" stroke-width="10.1"/>
<path d="M252.8,629.4L252.8,640.7" stroke="rgb(74,74,74)" stroke-width="13.0"/>
<path d="M144.5,653.9L144.1,664.2" stroke="rgb(74,74,74)" stroke-width="10.8"/>
<path d="M210.9,642.7L210.9,653.9" stroke="rgb(95,95,95)" stroke-width="12.3"/>
<path d="M186.4,650.9L188.5,656.0" stroke="rgb(95,95,95)" stroke-width="10.8"/>
<path d="M193.6,671.3L190.5,691.7" stroke="rgb(74,74,74)" stroke-width="12.3"/>
<path d="M211.6,675.4L208.9,691.7" stroke="rgb(74,74,74)" stroke-width="11.5"/>
<path d="M229.3,674.4L230.0,691.7" stroke="rgb(74,74,74)" stroke-width="12.3"/>
<path d="M254.9,690.7L254.9,703.0" stroke="rgb(74,74,74)" stroke-width="11.5"/>
<path d="M255.9,671.3L255.9,675.4" stroke="rgb(95,95,95)" stroke-width="10.8"/>
<path d="M221.8,713.2L220.1,724.4" stroke="rgb(74,74,74)" stroke-width="11.5"/>
<path d="M175.2,715.3L175.2,720.4" stroke="rgb(95,95,95)" stroke-width="11.5"/>
<path d="M190.5,728.5L189.5,737.7" stroke="rgb(95,95,95)" stroke-width="11.5"/>
<path d="M163.9,663.1L163.9,666.2" stroke="rgb(95,95,95)" stroke-width="10.1"/>
<path d="M124.1,666.2L126.1,669.3" stroke="rgb(95,95,95)" stroke-width="10.8"/>
<path d="M247.7,652.9L247.7,656.0" stroke="rgb(95,95,95)" stroke-width="10.1"/>
<path d="M238.5,716.3L238.5,724.4" stroke="rgb(95,95,95)" stroke-width="10.1"/>
<path d="M144.1,623.3L144.5,626.3" stroke="rgb(95,95,95)" stroke-width="10.1"/>
<path d="M333.6,610.0L332.6,630.4" stroke="rgb(181,181,181)" stroke-width="11.5"/>
<path d="M352.4,641.7L352.0,679.5" stroke="rgb(181,181,181)" stroke-width="10.4"/>
<path d="M370.4,618.2C370.5,623.6 371.0,641.0 371.4,650.9C371.7,660.8 372.2,673.0 372.4,677.4" stroke="rgb(181,181,181)" stroke-width="9.6"/>
<path d="M389.8,610.0C389.8,615.1 389.6,631.1 389.8,640.7C389.9,650.2 390.6,662.8 390.8,667.2" stroke="rgb(181,181,181)" stroke-width="10.4"/>
<path d="M304.6,640.7L299.9,669.3" stroke="rgb(181,181,181)" stroke-width="9.6"/>
<path d="M299.9,675.4L300.5,695.8" stroke="rgb(181,181,181)" stroke-width="11.5"/>
<path d="M284.5,621.2L284.5,630.4" stroke="rgb(181,181,181)" stroke-width="11.5"/>
<path d="M282.5,640.7L282.5,650.9" stroke="rgb(162,162,162)" stroke-width="10.8"/>
<path d="M320.3,668.2L320.3,687.7" stroke="rgb(181,181,181)" stroke-width="10.8"/>
<path d="M263.1,707.1C263.4,710.0 264.6,718.8 265.1,724.4C265.6,730.1 266.0,738.1 266.1,740.8" stroke="rgb(181,181,181)" stroke-width="11.2"/>
<path d="M266.1,687.7L266.5,691.7" stroke="rgb(181,181,181)" stroke-width="11.5"/>
<path d="M391.8,712.2L393.9,740.8" stroke="rgb(181,181,181)" stroke-width="9.6"/>
<path d="M282.5,734.7L282.5,742.8" stroke="rgb(181,181,181)" stroke-width="11.5"/>
<path d="M305.0,718.3L308.0,730.6" stroke="rgb(162,162,162)" stroke-width="10.8"/>
<path d="M277.4,665.2L278.4,667.2" stroke="rgb(162,162,162)" stroke-width="10.1"/>
<path d="M349.9,732.6L349.9,740.8" stroke="rgb(162,162,162)" stroke-width="10.8"/>
<path d="M315.2,616.1L315.2,628.4" stroke="rgb(162,162,162)" stroke-width="10.1"/>
<path d="M373.4,716.3L373.4,724.4" stroke="rgb(162,162,162)" stroke-width="10.1"/>
<path d="M391.8,697.9L391.8,702.0" stroke="rgb(162,162,162)" stroke-width="10.1"/>
<path d="M280.4,610.0L280.4,614.1" stroke="rgb(162,162,162)" stroke-width="10.8"/>
<path d="M292.7,639.6C292.2,643.2 290.7,654.8 289.6,661.1C288.6,667.4 287.1,674.7 286.6,677.4" stroke="rgb(74,74,74)" stroke-width="10.7"/>
<path d="M287.6,695.8L287.6,708.1" stroke="rgb(74,74,74)" stroke-width="11.5"/>
<path d="M323.4,610.0L322.3,630.4" stroke="rgb(95,95,95)" stroke-width="10.8"/>
<path d="M321.3,632.5C320.5,634.9 318.1,642.0 316.2,646.8C314.3,651.6 311.3,656.0 310.1,661.1C308.9,666.2 309.4,671.3 309.0,677.4C308.7,683.6 308.2,694.5 308.0,697.9" stroke="rgb(74,74,74)" stroke-width="9.7"/>
<path d="M341.7,610.0L342.8,634.5" stroke="rgb(74,74,74)" stroke-width="10.8"/>
<path d="M343.8,636.6L341.7,669.3" stroke="rgb(74,74,74)" stroke-width="9.7"/>
<path d="M340.7,689.7L341.7,706.1" stroke="rgb(74,74,74)" stroke-width="11.5"/>
<path d="M361.2,610.0C361.2,616.8 361.0,638.3 361.2,650.9C361.3,663.5 362.0,679.8 362.2,685.6" stroke="rgb(74,74,74)" stroke-width="9.7"/>
<path d="M380.6,610.0C380.4,616.8 379.7,637.6 379.6,650.9C379.4,664.2 379.6,683.2 379.6,689.7" stroke="rgb(74,74,74)" stroke-width="10.7"/>
<path d="M399.0,610.0L398.6,646.8" stroke="rgb(74,74,74)" stroke-width="9.7"/>
<path d="M340.7,708.1C339.5,709.8 335.3,715.1 333.6,718.3C331.9,721.6 331.0,726.0 330.5,727.5" stroke="rgb(74,74,74)" stroke-width="11.5"/>
<path d="M363.2,705.0C363.4,708.3 364.4,717.0 364.2,724.4C364.1,731.9 362.5,745.7 362.2,750.0" stroke="rgb(74,74,74)" stroke-width="10.7"/>
<path d="M379.6,721.4C380.4,724.6 383.6,736.0 384.7,740.8C385.7,745.6 385.5,748.5 385.7,750.0" stroke="rgb(74,74,74)" stroke-width="9.7"/>
<path d="M262.5,634.5L263.1,639.6" stroke="rgb(74,74,74)" stroke-width="11.5"/>
<path d="M265.1,658.0L265.1,661.1" stroke="rgb(95,95,95)" stroke-width="10.8"/>
<path d="M307.0,615.1L307.0,620.2" stroke="rgb(95,95,95)" stroke-width="10.8"/>
<path d="M293.7,725.5L293.7,735.7" stroke="rgb(74,74,74)" stroke-width="11.5"/>
<path d="M275.3,721.4L275.3,728.5" stroke="rgb(95,95,95)" stroke-width="10.8"/>
<path d="M341.7,742.8L343.8,750.0" stroke="rgb(95,95,95)" stroke-width="10.8"/>
<path d="M400.0,650.9L400.0,681.5" stroke="rgb(95,95,95)" stroke-width="7.1"/>
<path d="M408.2,610.0L407.8,631.5" stroke="rgb(181,181,181)" stroke-width="13.0"/>
<path d="M411.2,688.7L412.3,724.4" stroke="rgb(181,181,181)" stroke-width="10.4"/>
<path d="M435.2,660.1C434.7,664.7 433.6,678.3 432.7,687.7C431.8,697.0 430.1,711.5 429.6,716.3" stroke="rgb(181,181,181)" stroke-width="10.4"/>
<path d="M453.5,642.7C453.3,649.2 453.0,668.9 452.1,681.5C451.2,694.1 448.7,712.2 448.0,718.3" stroke="rgb(181,181,181)" stroke-width="10.4"/>
<path d="M471.5,628.4C471.5,632.1 471.7,642.7 471.5,650.9C471.4,659.0 470.7,673.0 470.5,677.4" stroke="rgb(181,181,181)" stroke-width="9.6"/>
<path d="M488.9,615.1C488.9,619.7 489.1,633.7 488.9,642.7C488.7,651.7 488.1,664.8 487.9,669.3" stroke="rgb(181,181,181)" stroke-width="10.4"/>
<path d="M507.3,610.0C507.1,614.1 507.3,624.3 506.3,634.5C505.3,644.7 502.2,662.1 501.2,671.3C500.1,680.5 500.3,686.6 500.1,689.7" stroke="rgb(181,181,181)" stroke-width="9.6"/>
<path d="M526.3,610.0C526.0,616.8 525.6,637.2 524.7,650.9C523.7,664.5 521.3,679.5 520.6,691.7C519.9,704.0 520.6,719.0 520.6,724.4" stroke="rgb(181,181,181)" stroke-width="10.4"/>
<path d="M493.0,737.7L493.0,750.0" stroke="rgb(181,181,181)" stroke-width="11.5"/>
<path d="M472.6,738.8L472.6,750.0" stroke="rgb(181,181,181)" stroke-width="10.8"/>
<path d="M420.4,658.0L420.4,661.1" stroke="rgb(181,181,181)" stroke-width="10.8"/>
<path d="M423.5,624.3L423.5,630.4" stroke="rgb(162,162,162)" stroke-width="10.1"/>
<path d="M496.1,706.1L496.1,711.2" stroke="rgb(162,162,162)" stroke-width="10.8"/>
<path d="M539.0,708.1L539.0,728.5" stroke="rgb(162,162,162)" stroke-width="10.1"/>
<path d="M400.0,610.0L400.0,622.3" stroke="rgb(74,74,74)" stroke-width="11.5"/>
<path d="M401.0,687.7L401.0,718.3" stroke="rgb(74,74,74)" stroke-width="11.6"/>
<path d="M417.4,610.0L417.4,613.1" stroke="rgb(74,74,74)" stroke-width="10.8"/>
<path d="M430.7,635.5L430.7,643.7" stroke="rgb(74,74,74)" stroke-width="11.5"/>
<path d="M413.3,640.7L411.2,661.1" stroke="rgb(74,74,74)" stroke-width="12.3"/>
<path d="M444.6,649.9L441.9,681.5" stroke="rgb(74,74,74)" stroke-width="10.7"/>
<path d="M439.9,687.7C439.3,691.7 437.6,704.7 436.8,712.2C435.9,719.7 435.1,729.2 434.7,732.6" stroke="rgb(74,74,74)" stroke-width="10.7"/>
<path d="M462.9,646.8C462.7,652.6 462.1,671.3 461.3,681.5C460.5,691.7 459.3,699.9 458.2,708.1C457.2,716.3 455.7,726.8 455.2,730.6" stroke="rgb(74,74,74)" stroke-width="11.6"/>
<path d="M479.3,632.5C479.2,635.5 479.0,644.7 478.7,650.9C478.4,657.0 477.8,666.2 477.7,669.3" stroke="rgb(74,74,74)" stroke-width="9.7"/>
<path d="M475.6,671.3L474.6,683.6" stroke="rgb(95,95,95)" stroke-width="10.8"/>
<path d="M498.5,618.2C498.3,623.6 498.2,641.0 497.1,650.9C496.0,660.8 493.3,669.6 492.0,677.4C490.6,685.3 489.4,694.5 488.9,697.9" stroke="rgb(74,74,74)" stroke-width="10.7"/>
<path d="M516.9,610.0C516.7,615.1 516.4,630.4 515.5,640.7C514.6,650.9 512.2,663.1 511.4,671.3C510.5,679.5 510.5,686.6 510.4,689.7" stroke="rgb(74,74,74)" stroke-width="10.7"/>
<path d="M536.5,610.0C536.2,616.8 535.7,637.2 534.9,650.9C534.1,664.5 532.5,679.5 531.8,691.7C531.1,704.0 531.0,719.0 530.8,724.4" stroke="rgb(74,74,74)" stroke-width="11.6"/>
<path d="M422.1,679.5C421.8,682.9 421.1,693.1 420.4,699.9C419.8,706.7 418.7,717.0 418.4,720.4" stroke="rgb(74,74,74)" stroke-width="10.7"/>
<path d="M479.7,610.0L480.7,616.1" stroke="rgb(74,74,74)" stroke-width="11.5"/>
<path d="M462.3,610.0L462.3,619.2" stroke="rgb(74,74,74)" stroke-width="10.8"/>
<path d="M477.7,720.4C479.7,720.7 485.2,720.0 489.9,722.4C494.7,724.8 503.5,732.6 506.3,734.7" stroke="rgb(95,95,95)" stroke-width="10.4"/>
<path d="M487.9,722.4L489.9,724.4" stroke="rgb(74,74,74)" stroke-width="10.8"/>
<path d="M462.3,741.8L461.3,750.0" stroke="rgb(74,74,74)" stroke-width="10.8"/>
<path d="M412.3,732.6L404.1,744.9" stroke="rgb(95,95,95)" stroke-width="10.8"/>
<path d="M530.8,732.6L528.8,750.0" stroke="rgb(95,95,95)" stroke-width="10.8"/>
<path d="M511.4,732.6L511.4,750.0" stroke="rgb(95,95,95)" stroke-width="10.1"/>
<path d="M482.8,742.8L482.8,750.0" stroke="rgb(74,74,74)" stroke-width="10.8"/>
<path d="M544.1,610.0C544.0,615.1 544.0,630.8 543.7,640.7C543.3,650.5 542.3,664.5 542.0,669.3" stroke="rgb(181,181,181)" stroke-width="10.4"/>
<path d="M541.0,671.3L541.0,704.0" stroke="rgb(181,181,181)" stroke-width="7.9"/>
<path d="M562.5,610.0C562.3,618.5 561.5,646.8 561.5,661.1C561.5,675.4 561.5,687.3 562.5,695.8C563.5,704.4 566.7,709.5 567.6,712.2" stroke="rgb(181,181,181)" stroke-width="10.4"/>
<path d="M582.5,610.0C582.6,618.5 583.2,647.5 582.9,661.1C582.6,674.7 582.6,683.2 580.9,691.7C579.2,700.3 574.1,708.8 572.7,712.2" stroke="rgb(181,181,181)" stroke-width="10.4"/>
<path d="M568.6,712.2C568.3,715.6 567.1,726.3 566.6,732.6C566.1,738.9 565.7,747.1 565.5,750.0" stroke="rgb(181,181,181)" stroke-width="12.8"/>
<path d="M601.3,616.1L600.3,636.6" stroke="rgb(181,181,181)" stroke-width="11.5"/>
<path d="M601.3,640.7C601.7,644.1 603.7,652.6 603.4,661.1C603.0,669.6 600.8,681.2 599.3,691.7C597.7,702.3 595.0,719.0 594.2,724.4" stroke="rgb(181,181,181)" stroke-width="12.0"/>
<path d="M615.6,638.6L614.6,661.1" stroke="rgb(181,181,181)" stroke-width="13.0"/>
<path d="M603.4,655.0L615.6,657.0" stroke="rgb(181,181,181)" stroke-width="13.0"/>
<path d="M634.4,610.0C634.4,616.8 634.4,639.0 634.0,650.9C633.6,662.8 633.0,672.7 632.0,681.5C630.9,690.4 628.6,700.3 627.9,704.0" stroke="rgb(181,181,181)" stroke-width="10.4"/>
<path d="M652.4,610.0C652.3,614.1 651.9,627.0 652.0,634.5C652.1,642.0 652.7,651.6 652.8,655.0" stroke="rgb(181,181,181)" stroke-width="9.6"/>
<path d="M670.8,610.0L670.4,640.7" stroke="rgb(181,181,181)" stroke-width="8.7"/>
<path d="M616.6,610.0L616.6,618.2" stroke="rgb(181,181,181)" stroke-width="10.8"/>
<path d="M612.6,685.6L610.5,712.2" stroke="rgb(181,181,181)" stroke-width="10.8"/>
<path d="M624.8,720.4L623.8,734.7" stroke="rgb(181,181,181)" stroke-width="11.5"/>
<path d="M678.0,683.6L675.9,695.8" stroke="rgb(181,181,181)" stroke-width="11.5"/>
<path d="M665.7,724.4L667.7,729.6" stroke="rgb(181,181,181)" stroke-width="11.5"/>
<path d="M680.0,732.6L680.0,742.8" stroke="rgb(181,181,181)" stroke-width="10.8"/>
<path d="M647.3,734.7L649.3,740.8" stroke="rgb(181,181,181)" stroke-width="10.8"/>
<path d="M546.1,742.8L546.5,745.9" stroke="rgb(181,181,181)" stroke-width="10.8"/>
<path d="M576.8,742.8L576.8,750.0" stroke="rgb(162,162,162)" stroke-width="10.8"/>
<path d="M596.2,726.5L601.3,740.8" stroke="rgb(181,181,181)" stroke-width="11.5"/>
<path d="M650.0,679.5L650.0,684.6" stroke="rgb(162,162,162)" stroke-width="10.1"/>
<path d="M648.3,695.8L648.3,704.0" stroke="rgb(162,162,162)" stroke-width="10.1"/>
<path d="M652.4,716.3L653.4,724.4" stroke="rgb(162,162,162)" stroke-width="10.8"/>
<path d="M636.1,740.8L636.1,749.0" stroke="rgb(162,162,162)" stroke-width="10.8"/>
<path d="M662.6,682.6L666.7,682.6" stroke="rgb(162,162,162)" stroke-width="9.4"/>
<path d="M553.3,616.1C553.3,621.9 553.5,642.0 553.3,650.9C553.1,659.7 552.4,666.2 552.3,669.3" stroke="rgb(74,74,74)" stroke-width="9.7"/>
<path d="M549.2,690.7L549.2,702.0" stroke="rgb(74,74,74)" stroke-width="11.5"/>
<path d="M572.7,616.1L572.3,636.6" stroke="rgb(74,74,74)" stroke-width="11.5"/>
<path d="M572.3,638.6L572.7,667.2" stroke="rgb(95,95,95)" stroke-width="7.9"/>
<path d="M571.7,671.3L571.7,697.9" stroke="rgb(74,74,74)" stroke-width="11.5"/>
<path d="M592.7,616.1L592.1,636.6" stroke="rgb(74,74,74)" stroke-width="11.5"/>
<path d="M590.1,638.6L588.0,671.3" stroke="rgb(95,95,95)" stroke-width="7.9"/>
<path d="M589.0,685.6L589.0,691.7" stroke="rgb(74,74,74)" stroke-width="10.8"/>
<path d="M586.0,695.8L583.9,716.3" stroke="rgb(95,95,95)" stroke-width="10.8"/>
<path d="M625.8,610.0L624.8,636.6" stroke="rgb(74,74,74)" stroke-width="11.5"/>
<path d="M623.4,648.8C623.3,652.6 623.0,664.5 622.8,671.3C622.5,678.1 621.9,686.6 621.7,689.7" stroke="rgb(74,74,74)" stroke-width="10.7"/>
<path d="M643.8,610.0C643.9,615.1 644.3,631.1 644.2,640.7C644.1,650.2 643.4,662.8 643.2,667.2" stroke="rgb(74,74,74)" stroke-width="9.7"/>
<path d="M641.2,671.3C640.7,675.4 639.1,688.0 638.1,695.8C637.1,703.7 635.5,714.6 635.0,718.3" stroke="rgb(95,95,95)" stroke-width="7.9"/>
<path d="M661.6,610.0C661.4,615.1 661.1,630.8 660.6,640.7C660.1,650.5 658.9,664.5 658.5,669.3" stroke="rgb(74,74,74)" stroke-width="9.7"/>
<path d="M679.0,630.4C678.8,634.5 678.6,647.5 678.0,655.0C677.3,662.5 675.4,672.0 674.9,675.4" stroke="rgb(74,74,74)" stroke-width="10.7"/>
<path d="M662.6,698.9L662.2,711.2" stroke="rgb(74,74,74)" stroke-width="12.3"/>
<path d="M613.6,730.6L613.2,740.8" stroke="rgb(74,74,74)" stroke-width="11.5"/>
<path d="M679.0,706.1L679.0,721.4" stroke="rgb(74,74,74)" stroke-width="10.8"/>
<path d="M666.7,742.8L668.8,748.0" stroke="rgb(74,74,74)" stroke-width="10.8"/>
<path d="M553.3,724.4L555.3,736.7" stroke="rgb(95,95,95)" stroke-width="10.1"/>
<path d="M634.4,732.6L633.6,750.0" stroke="rgb(95,95,95)" stroke-width="10.1"/>
<path d="M583.9,732.6L589.0,742.8" stroke="rgb(95,95,95)" stroke-width="10.1"/>
<path d="M146.6,772.6C147.4,775.0 150.5,781.1 151.7,786.9C152.9,792.7 153.0,801.2 153.7,807.3C154.4,813.4 155.4,820.9 155.8,823.7" stroke="rgb(181,181,181)" stroke-width="11.2"/>
<path d="M128.2,782.8C128.0,785.5 126.6,794.0 127.2,799.1C127.7,804.2 130.6,811.1 131.2,813.4" stroke="rgb(181,181,181)" stroke-width="10.4"/>
<path d="M126.1,817.5L124.1,831.8" stroke="rgb(181,181,181)" stroke-width="12.3"/>
<path d="M167.4,762.3L169.0,774.6" stroke="rgb(181,181,181)" stroke-width="13.0"/>
<path d="M232.8,769.5L230.4,807.3" stroke="rgb(181,181,181)" stroke-width="8.7"/>
<path d="M205.8,783.8L201.7,801.2" stroke="rgb(181,181,181)" stroke-width="11.5"/>
<path d="M199.7,762.3L209.9,765.4" stroke="rgb(162,162,162)" stroke-width="12.3"/>
<path d="M183.4,815.5L183.8,825.7" stroke="rgb(181,181,181)" stroke-width="12.3"/>
<path d="M244.7,809.4L242.6,824.7" stroke="rgb(181,181,181)" stroke-width="11.5"/>
<path d="M126.1,759.3L132.3,764.4" stroke="rgb(181,181,181)" stroke-width="11.5"/>
<path d="M150.7,746.0L150.7,749.1" stroke="rgb(181,181,181)" stroke-width="11.5"/>
<path d="M213.0,876.8L213.0,881.9" stroke="rgb(181,181,181)" stroke-width="10.8"/>
<path d="M258.0,746.0L258.0,749.1" stroke="rgb(181,181,181)" stroke-width="10.8"/>
<path d="M248.8,750.1L248.8,756.2" stroke="rgb(162,162,162)" stroke-width="10.1"/>
<path d="M138.4,779.7L138.8,793.0" stroke="rgb(74,74,74)" stroke-width="11.5"/>
<path d="M141.5,804.2L140.4,817.5" stroke="rgb(95,95,95)" stroke-width="10.8"/>
<path d="M181.3,757.2L181.3,766.4" stroke="rgb(95,95,95)" stroke-width="11.5"/>
<path d="M179.3,784.8L179.3,788.9" stroke="rgb(95,95,95)" stroke-width="10.1"/>
<path d="M161.9,783.8L161.9,787.9" stroke="rgb(95,95,95)" stroke-width="10.8"/>
<path d="M173.5,805.3L173.1,824.7" stroke="rgb(74,74,74)" stroke-width="11.5"/>
<path d="M192.6,788.9L192.6,794.0" stroke="rgb(95,95,95)" stroke-width="10.8"/>
<path d="M193.6,810.4L193.2,824.7" stroke="rgb(95,95,95)" stroke-width="10.8"/>
<path d="M216.5,814.5L215.0,824.7" stroke="rgb(95,95,95)" stroke-width="10.8"/>
<path d="M254.5,794.0L253.9,807.3" stroke="rgb(74,74,74)" stroke-width="11.5"/>
<path d="M253.9,821.6L253.9,825.7" stroke="rgb(95,95,95)" stroke-width="10.1"/>
<path d="M240.6,750.1L240.6,760.3" stroke="rgb(95,95,95)" stroke-width="10.1"/>
<path d="M224.2,876.8L224.2,881.9" stroke="rgb(74,74,74)" stroke-width="10.8"/>
<path d="M272.3,772.6C271.4,775.0 268.3,781.1 267.2,786.9C266.0,792.7 265.4,803.9 265.1,807.3" stroke="rgb(181,181,181)" stroke-width="11.2"/>
<path d="M333.6,767.5L333.6,780.7" stroke="rgb(181,181,181)" stroke-width="13.0"/>
<path d="M311.1,814.5L311.1,825.7" stroke="rgb(181,181,181)" stroke-width="12.3"/>
<path d="M272.3,830.8L271.9,840.0" stroke="rgb(181,181,181)" stroke-width="12.3"/>
<path d="M289.6,809.4L291.7,831.8" stroke="rgb(181,181,181)" stroke-width="10.8"/>
<path d="M300.9,785.9L308.0,797.1" stroke="rgb(162,162,162)" stroke-width="11.5"/>
<path d="M296.8,750.1L295.8,758.3" stroke="rgb(162,162,162)" stroke-width="10.1"/>
<path d="M280.4,750.1L280.4,756.2" stroke="rgb(162,162,162)" stroke-width="10.1"/>
<path d="M323.8,846.1L324.4,860.4" stroke="rgb(181,181,181)" stroke-width="10.8"/>
<path d="M386.7,859.4L387.1,870.7" stroke="rgb(162,162,162)" stroke-width="10.8"/>
<path d="M263.1,750.1L264.1,758.3" stroke="rgb(162,162,162)" stroke-width="10.1"/>
<path d="M374.4,754.2L377.5,754.6" stroke="rgb(181,181,181)" stroke-width="9.4"/>
<path d="M367.3,809.4L367.3,814.5" stroke="rgb(162,162,162)" stroke-width="10.1"/>
<path d="M358.1,762.3L358.1,768.5" stroke="rgb(162,162,162)" stroke-width="9.4"/>
<path d="M339.7,746.0L344.8,758.3" stroke="rgb(95,95,95)" stroke-width="10.8"/>
<path d="M345.8,760.3C346.2,763.0 348.4,770.9 347.9,776.7C347.4,782.4 344.5,789.3 342.8,795.0C341.1,800.8 338.5,808.7 337.7,811.4" stroke="rgb(74,74,74)" stroke-width="10.7"/>
<path d="M336.6,813.4C336.1,817.5 334.3,829.8 333.6,838.0C332.9,846.1 332.7,858.4 332.6,862.5" stroke="rgb(95,95,95)" stroke-width="8.7"/>
<path d="M325.0,763.4L325.0,778.7" stroke="rgb(74,74,74)" stroke-width="11.5"/>
<path d="M304.6,764.4L306.0,776.7" stroke="rgb(74,74,74)" stroke-width="11.5"/>
<path d="M285.5,763.4L285.5,770.5" stroke="rgb(95,95,95)" stroke-width="10.8"/>
<path d="M295.8,798.1L299.9,817.5" stroke="rgb(95,95,95)" stroke-width="10.8"/>
<path d="M300.5,819.6L300.9,842.1" stroke="rgb(74,74,74)" stroke-width="10.8"/>
<path d="M281.5,824.7L281.5,839.0" stroke="rgb(74,74,74)" stroke-width="10.8"/>
<path d="M316.2,835.9L313.5,860.4" stroke="rgb(74,74,74)" stroke-width="11.5"/>
<path d="M265.1,846.1L274.3,860.4" stroke="rgb(74,74,74)" stroke-width="11.5"/>
<path d="M265.1,872.7L265.1,880.9" stroke="rgb(95,95,95)" stroke-width="11.5"/>
<path d="M373.4,781.8L369.3,794.0" stroke="rgb(74,74,74)" stroke-width="11.5"/>
<path d="M393.9,769.5C393.4,772.4 393.0,781.9 390.8,786.9C388.6,791.8 381.9,794.7 380.6,799.1C379.2,803.6 382.3,811.1 382.6,813.4" stroke="rgb(74,74,74)" stroke-width="10.7"/>
<path d="M357.1,813.4L356.1,819.6" stroke="rgb(74,74,74)" stroke-width="11.5"/>
<path d="M352.0,831.8L366.3,832.9" stroke="rgb(95,95,95)" stroke-width="12.3"/>
<path d="M365.3,848.2C364.6,850.9 361.7,859.8 361.2,864.5C360.7,869.3 362.0,874.8 362.2,876.8" stroke="rgb(74,74,74)" stroke-width="9.7"/>
<path d="M398.0,842.1C397.6,845.1 396.4,854.0 395.9,860.4C395.4,866.9 395.1,877.5 394.9,880.9" stroke="rgb(74,74,74)" stroke-width="11.6"/>
<path d="M377.5,847.2L378.5,860.4" stroke="rgb(95,95,95)" stroke-width="10.1"/>
<path d="M385.7,746.0L386.7,753.2" stroke="rgb(74,74,74)" stroke-width="11.5"/>
<path d="M272.3,748.0L270.2,760.3" stroke="rgb(95,95,95)" stroke-width="10.8"/>
<path d="M277.4,792.0L278.4,795.0" stroke="rgb(95,95,95)" stroke-width="10.1"/>
<path d="M366.3,748.0L371.4,762.3" stroke="rgb(95,95,95)" stroke-width="10.8"/>
<path d="M409.2,821.6C408.9,826.0 407.8,838.3 407.2,848.2C406.5,858.1 405.4,875.4 405.1,880.9" stroke="rgb(181,181,181)" stroke-width="10.4"/>
<path d="M412.3,802.2L411.2,815.5" stroke="rgb(162,162,162)" stroke-width="10.8"/>
<path d="M491.6,819.6C491.1,822.6 489.6,830.5 488.9,838.0C488.2,845.5 487.7,860.1 487.5,864.5" stroke="rgb(181,181,181)" stroke-width="10.4"/>
<path d="M481.7,772.6L481.7,789.9" stroke="rgb(181,181,181)" stroke-width="12.3"/>
<path d="M449.0,763.4L449.0,772.6" stroke="rgb(181,181,181)" stroke-width="11.5"/>
<path d="M452.1,750.1L450.7,760.3" stroke="rgb(162,162,162)" stroke-width="10.1"/>
<path d="M428.6,776.7L429.6,786.9" stroke="rgb(181,181,181)" stroke-width="10.8"/>
<path d="M430.7,788.9L431.7,809.4" stroke="rgb(162,162,162)" stroke-width="10.8"/>
<path d="M425.5,830.8L426.2,842.1" stroke="rgb(181,181,181)" stroke-width="12.3"/>
<path d="M505.3,841.0L505.3,856.4" stroke="rgb(181,181,181)" stroke-width="11.5"/>
<path d="M502.2,792.0L502.2,801.2" stroke="rgb(162,162,162)" stroke-width="10.8"/>
<path d="M507.3,771.5L510.4,773.6" stroke="rgb(162,162,162)" stroke-width="10.1"/>
<path d="M472.6,746.0L471.5,754.2" stroke="rgb(181,181,181)" stroke-width="10.8"/>
<path d="M493.0,746.0L493.0,748.0" stroke="rgb(181,181,181)" stroke-width="10.8"/>
<path d="M436.8,855.3L437.8,863.5" stroke="rgb(162,162,162)" stroke-width="10.1"/>
<path d="M522.6,823.7L524.7,842.1" stroke="rgb(162,162,162)" stroke-width="10.1"/>
<path d="M422.5,876.8L422.5,881.9" stroke="rgb(162,162,162)" stroke-width="10.1"/>
<path d="M454.2,868.6L454.2,880.9" stroke="rgb(162,162,162)" stroke-width="10.1"/>
<path d="M528.8,746.0L527.7,758.3" stroke="rgb(162,162,162)" stroke-width="10.1"/>
<path d="M439.2,758.3L438.4,786.9" stroke="rgb(74,74,74)" stroke-width="11.6"/>
<path d="M462.3,746.0L459.3,768.5" stroke="rgb(74,74,74)" stroke-width="11.5"/>
<path d="M421.5,801.2L419.4,823.7" stroke="rgb(74,74,74)" stroke-width="11.5"/>
<path d="M419.4,782.8L420.4,797.1" stroke="rgb(95,95,95)" stroke-width="10.1"/>
<path d="M414.3,762.3L417.4,774.6" stroke="rgb(95,95,95)" stroke-width="10.1"/>
<path d="M404.1,786.9L403.7,807.3" stroke="rgb(95,95,95)" stroke-width="10.8"/>
<path d="M401.6,811.4L401.6,825.7" stroke="rgb(74,74,74)" stroke-width="11.5"/>
<path d="M437.2,817.5L436.8,834.9" stroke="rgb(74,74,74)" stroke-width="12.3"/>
<path d="M453.1,795.0L455.2,807.3" stroke="rgb(95,95,95)" stroke-width="10.8"/>
<path d="M457.2,813.4L459.3,828.8" stroke="rgb(74,74,74)" stroke-width="12.3"/>
<path d="M469.5,780.7L469.5,786.9" stroke="rgb(74,74,74)" stroke-width="10.8"/>
<path d="M490.9,795.0L490.9,807.3" stroke="rgb(74,74,74)" stroke-width="11.5"/>
<path d="M513.4,786.9L513.4,797.1" stroke="rgb(74,74,74)" stroke-width="10.8"/>
<path d="M515.5,809.4L515.5,814.5" stroke="rgb(95,95,95)" stroke-width="10.1"/>
<path d="M518.5,751.1L517.5,766.4" stroke="rgb(74,74,74)" stroke-width="11.5"/>
<path d="M537.3,746.0L536.9,764.4" stroke="rgb(74,74,74)" stroke-width="11.5"/>
<path d="M477.3,831.8L476.6,868.6" stroke="rgb(95,95,95)" stroke-width="8.7"/>
<path d="M515.5,833.9L514.9,853.3" stroke="rgb(74,74,74)" stroke-width="11.5"/>
<path d="M535.9,819.6C535.6,823.3 534.9,834.2 533.9,842.1C532.8,849.9 530.5,862.5 529.8,866.6" stroke="rgb(74,74,74)" stroke-width="10.7"/>
<path d="M416.3,835.9C416.2,840.0 415.7,853.0 415.3,860.4C415.0,867.9 414.5,877.5 414.3,880.9" stroke="rgb(95,95,95)" stroke-width="8.7"/>
<path d="M496.1,859.4L494.4,872.7" stroke="rgb(95,95,95)" stroke-width="10.8"/>
<path d="M447.0,850.2L449.0,852.3" stroke="rgb(95,95,95)" stroke-width="10.1"/>
<path d="M431.1,871.7L431.1,881.9" stroke="rgb(74,74,74)" stroke-width="10.8"/>
<path d="M481.7,746.0L481.7,756.2" stroke="rgb(74,74,74)" stroke-width="10.8"/>
<path d="M504.2,746.0L504.2,752.1" stroke="rgb(95,95,95)" stroke-width="10.8"/>
<path d="M539.0,782.8L539.0,803.2" stroke="rgb(95,95,95)" stroke-width="10.1"/>
<path d="M564.5,746.0L564.5,752.1" stroke="rgb(181,181,181)" stroke-width="12.3"/>
<path d="M565.5,765.4L566.2,776.7" stroke="rgb(181,181,181)" stroke-width="11.5"/>
<path d="M601.3,746.0L601.3,756.2" stroke="rgb(181,181,181)" stroke-width="12.3"/>
<path d="M622.8,746.0L621.7,757.2" stroke="rgb(181,181,181)" stroke-width="12.3"/>
<path d="M638.1,765.4L652.4,763.4" stroke="rgb(181,181,181)" stroke-width="13.0"/>
<path d="M657.5,778.7L662.6,793.0" stroke="rgb(181,181,181)" stroke-width="12.3"/>
<path d="M664.3,795.0L664.7,817.5" stroke="rgb(162,162,162)" stroke-width="11.5"/>
<path d="M662.6,821.6C661.3,824.0 656.7,830.5 654.4,835.9C652.2,841.4 650.2,851.3 649.3,854.3" stroke="rgb(181,181,181)" stroke-width="10.4"/>
<path d="M678.0,752.1L676.9,786.9" stroke="rgb(181,181,181)" stroke-width="9.6"/>
<path d="M575.8,801.2C575.3,803.2 573.7,809.5 572.7,813.4C571.7,817.4 570.1,822.8 569.6,824.7" stroke="rgb(181,181,181)" stroke-width="12.3"/>
<path d="M596.2,798.1L594.2,823.7" stroke="rgb(181,181,181)" stroke-width="12.3"/>
<path d="M614.0,798.1C614.3,801.4 614.3,812.1 615.6,817.5C616.9,823.0 620.7,828.6 621.7,830.8" stroke="rgb(181,181,181)" stroke-width="9.6"/>
<path d="M627.9,811.4L625.8,827.7" stroke="rgb(162,162,162)" stroke-width="10.1"/>
<path d="M580.9,840.0C581.4,842.4 582.9,849.2 583.9,854.3C585.0,859.4 586.8,867.9 587.4,870.7" stroke="rgb(181,181,181)" stroke-width="11.2"/>
<path d="M552.3,817.5L552.7,822.6" stroke="rgb(181,181,181)" stroke-width="11.5"/>
<path d="M586.0,778.7L583.9,795.0" stroke="rgb(162,162,162)" stroke-width="10.8"/>
<path d="M606.4,763.4L607.0,768.5" stroke="rgb(162,162,162)" stroke-width="10.8"/>
<path d="M556.3,851.3L556.3,862.5" stroke="rgb(162,162,162)" stroke-width="10.8"/>
<path d="M559.4,872.7L561.5,878.8" stroke="rgb(162,162,162)" stroke-width="10.1"/>
<path d="M628.3,847.2L629.1,850.2" stroke="rgb(162,162,162)" stroke-width="10.8"/>
<path d="M679.0,866.6L678.0,880.9" stroke="rgb(181,181,181)" stroke-width="11.5"/>
<path d="M640.1,868.6L642.2,881.9" stroke="rgb(162,162,162)" stroke-width="10.1"/>
<path d="M601.3,870.7L601.3,881.9" stroke="rgb(162,162,162)" stroke-width="10.1"/>
<path d="M543.1,746.0L543.1,750.1" stroke="rgb(162,162,162)" stroke-width="10.1"/>
<path d="M544.1,756.2L552.3,766.4" stroke="rgb(95,95,95)" stroke-width="13.7"/>
<path d="M540.0,784.8L541.0,801.2" stroke="rgb(74,74,74)" stroke-width="11.5"/>
<path d="M540.0,821.6L540.0,835.9" stroke="rgb(74,74,74)" stroke-width="12.3"/>
<path d="M544.1,842.1C544.3,845.1 544.8,854.0 545.1,860.4C545.4,866.9 546.0,877.5 546.1,880.9" stroke="rgb(95,95,95)" stroke-width="9.6"/>
<path d="M576.8,767.5L576.8,773.6" stroke="rgb(95,95,95)" stroke-width="10.8"/>
<path d="M596.2,770.5L596.2,779.7" stroke="rgb(95,95,95)" stroke-width="11.5"/>
<path d="M605.0,807.3L605.0,824.7" stroke="rgb(74,74,74)" stroke-width="11.5"/>
<path d="M583.9,806.3L583.9,810.4" stroke="rgb(95,95,95)" stroke-width="10.8"/>
<path d="M563.5,806.3L563.5,810.4" stroke="rgb(95,95,95)" stroke-width="10.1"/>
<path d="M566.6,844.1L567.6,852.3" stroke="rgb(95,95,95)" stroke-width="11.5"/>
<path d="M570.7,856.4L572.7,872.7" stroke="rgb(95,95,95)" stroke-width="11.5"/>
<path d="M595.2,857.4L597.2,864.5" stroke="rgb(95,95,95)" stroke-width="11.5"/>
<path d="M591.1,839.0L592.1,846.1" stroke="rgb(95,95,95)" stroke-width="10.1"/>
<path d="M641.2,839.0L641.2,843.1" stroke="rgb(74,74,74)" stroke-width="11.5"/>
<path d="M637.1,827.7L638.1,833.9" stroke="rgb(95,95,95)" stroke-width="10.1"/>
<path d="M667.7,768.5L667.7,776.7" stroke="rgb(95,95,95)" stroke-width="11.5"/>
<path d="M623.8,873.7L623.8,876.8" stroke="rgb(95,95,95)" stroke-width="10.1"/>
<path d="M588.0,746.0L588.0,750.1" stroke="rgb(95,95,95)" stroke-width="10.1"/>
<path d="M634.0,746.0L635.0,752.1" stroke="rgb(95,95,95)" stroke-width="10.1"/>
<path d="M122.5,334.1L122.5,352.5" stroke="rgb(95,95,95)" stroke-width="10.1"/>
<path d="M127.2,388.2L127.2,391.3" stroke="rgb(95,95,95)" stroke-width="10.8"/>
<path d="M125.1,435.3L125.1,438.3" stroke="rgb(95,95,95)" stroke-width="10.8"/>
<path d="M150.7,332.0L151.7,334.1" stroke="rgb(74,74,74)" stroke-width="10.1"/>
<path d="M188.5,331.6L190.5,333.1" stroke="rgb(74,74,74)" stroke-width="10.1"/>
<path d="M197.7,405.6L197.7,408.7" stroke="rgb(95,95,95)" stroke-width="10.8"/>
<path d="M208.9,395.4L208.9,400.5" stroke="rgb(162,162,162)" stroke-width="10.1"/>
<path d="M196.6,432.2L196.6,436.3" stroke="rgb(162,162,162)" stroke-width="10.1"/>
<path d="M218.1,410.7L217.1,419.9" stroke="rgb(162,162,162)" stroke-width="10.1"/>
<path d="M168.0,397.4L170.1,407.7" stroke="rgb(95,95,95)" stroke-width="10.8"/>
<path d="M157.8,378.0L157.8,409.7" stroke="rgb(181,181,181)" stroke-width="10.8"/>
<path d="M131.2,445.5L132.3,448.5" stroke="rgb(162,162,162)" stroke-width="10.8"/>
<path d="M140.4,458.8L140.4,462.8" stroke="rgb(162,162,162)" stroke-width="10.1"/>
<path d="M380.6,352.5L390.8,368.8" stroke="rgb(95,95,95)" stroke-width="15.1"/>
<path d="M374.4,368.8L382.6,376.0" stroke="rgb(95,95,95)" stroke-width="12.3"/>
<path d="M394.9,350.4L400.0,362.7" stroke="rgb(95,95,95)" stroke-width="12.3"/>
<path d="M352.0,389.3L366.3,393.4" stroke="rgb(162,162,162)" stroke-width="10.8"/>
<path d="M327.4,360.7L327.4,381.1" stroke="rgb(95,95,95)" stroke-width="10.1"/>
<path d="M157.8,378.0L157.8,409.7" stroke="rgb(255,255,255)" stroke-width="6.6"/>
<path d="M193.6,383.5L194.0,395.4" stroke="rgb(255,255,255)" stroke-width="5.0"/>
<path d="M232.0,344.3C231.7,352.1 231.1,376.7 230.4,391.3C229.6,406.0 228.1,419.1 227.3,432.2C226.4,445.3 225.6,463.7 225.3,470.0" stroke="rgb(255,255,255)" stroke-width="5.7"/>
<path d="M248.3,330.0L248.3,419.9" stroke="rgb(255,255,255)" stroke-width="6.1"/>
<path d="M209.9,446.5L209.9,470.0" stroke="rgb(255,255,255)" stroke-width="5.0"/>
<path d="M241.0,452.6L241.0,470.0" stroke="rgb(255,255,255)" stroke-width="5.0"/>
<path d="M135.3,423.0L135.3,428.1" stroke="rgb(255,255,255)" stroke-width="4.3"/>
<path d="M134.3,381.1L134.3,395.4" stroke="rgb(209,209,209)" stroke-width="4.3"/>
<path d="M177.2,331.0L177.2,332.0" stroke="rgb(255,255,255)" stroke-width="3.6"/>
<path d="M166.0,378.0L166.0,389.3" stroke="rgb(0,0,0)" stroke-width="4.3"/>
<path d="M145.5,410.7L146.6,432.2" stroke="rgb(0,0,0)" stroke-width="4.3"/>
<path d="M175.2,408.7L170.1,426.1" stroke="rgb(0,0,0)" stroke-width="4.3"/>
<path d="M163.3,447.5L163.9,457.7" stroke="rgb(0,0,0)" stroke-width="5.0"/>
<path d="M220.6,344.3L220.6,356.6" stroke="rgb(0,0,0)" stroke-width="4.3"/>
<path d="M219.5,378.0L219.5,405.6" stroke="rgb(0,0,0)" stroke-width="4.3"/>
<path d="M240.2,330.0C240.1,340.2 240.2,376.0 239.6,391.3C238.9,406.6 237.5,408.9 236.5,422.0C235.5,435.1 233.9,462.0 233.4,470.0" stroke="rgb(0,0,0)" stroke-width="5.8"/>
<path d="M256.5,350.4L255.9,417.9" stroke="rgb(0,0,0)" stroke-width="5.8"/>
<path d="M250.8,444.4L250.8,470.0" stroke="rgb(0,0,0)" stroke-width="4.3"/>
<path d="M200.1,441.4L198.7,470.0" stroke="rgb(0,0,0)" stroke-width="5.8"/>
<path d="M185.0,441.4L186.4,452.6" stroke="rgb(0,0,0)" stroke-width="4.3"/>
<path d="M218.5,423.0L217.7,470.0" stroke="rgb(0,0,0)" stroke-width="5.8"/>
<path d="M265.1,334.1L265.1,415.8" stroke="rgb(255,255,255)" stroke-width="6.6"/>
<path d="M283.5,336.1C283.4,346.3 281.7,384.5 282.9,397.4C284.1,410.4 288.9,409.0 290.7,413.8C292.5,418.6 293.2,416.7 293.7,426.1C294.2,435.4 293.7,462.7 293.7,470.0" stroke="rgb(255,255,255)" stroke-width="6.6"/>
<path d="M301.9,344.3C301.9,353.2 302.7,386.2 301.9,397.4C301.0,408.7 297.6,409.4 296.8,411.7" stroke="rgb(255,255,255)" stroke-width="6.6"/>
<path d="M319.3,358.6L319.3,381.1" stroke="rgb(255,255,255)" stroke-width="4.3"/>
<path d="M338.7,338.2L338.7,381.1" stroke="rgb(255,255,255)" stroke-width="6.6"/>
<path d="M357.7,338.2L358.1,370.9" stroke="rgb(209,209,209)" stroke-width="4.9"/>
<path d="M359.1,380.1L359.1,384.2" stroke="rgb(255,255,255)" stroke-width="5.8"/>
<path d="M380.2,333.1L377.5,347.4" stroke="rgb(255,255,255)" stroke-width="5.8"/>
<path d="M274.3,430.1L274.3,470.0" stroke="rgb(255,255,255)" stroke-width="6.6"/>
<path d="M315.2,417.9L315.2,470.0" stroke="rgb(255,255,255)" stroke-width="6.6"/>
<path d="M335.6,413.8L336.6,460.8" stroke="rgb(255,255,255)" stroke-width="6.6"/>
<path d="M393.9,402.6L393.9,409.7" stroke="rgb(255,255,255)" stroke-width="5.8"/>
<path d="M390.8,436.3L390.8,447.5" stroke="rgb(255,255,255)" stroke-width="5.8"/>
<path d="M370.4,436.3L370.4,441.4" stroke="rgb(255,255,255)" stroke-width="4.3"/>
<path d="M371.4,452.6L371.4,456.7" stroke="rgb(209,209,209)" stroke-width="5.8"/>
<path d="M260.0,417.9L260.0,422.0" stroke="rgb(255,255,255)" stroke-width="3.6"/>
<path d="M368.3,393.4L370.4,401.5" stroke="rgb(209,209,209)" stroke-width="3.6"/>
<path d="M274.3,348.4L273.3,417.9" stroke="rgb(0,0,0)" stroke-width="7.7"/>
<path d="M292.7,348.4L291.7,397.4" stroke="rgb(0,0,0)" stroke-width="7.7"/>
<path d="M311.1,346.3L310.1,393.4" stroke="rgb(0,0,0)" stroke-width="7.7"/>
<path d="M329.5,344.3L329.5,354.5" stroke="rgb(0,0,0)" stroke-width="5.8"/>
<path d="M327.4,389.3L326.4,409.7" stroke="rgb(0,0,0)" stroke-width="5.8"/>
<path d="M348.3,350.4L348.3,377.0" stroke="rgb(0,0,0)" stroke-width="5.8"/>
<path d="M346.9,398.5L346.9,406.6" stroke="rgb(0,0,0)" stroke-width="5.8"/>
<path d="M362.2,402.6L363.2,411.7" stroke="rgb(0,0,0)" stroke-width="4.3"/>
<path d="M382.6,399.5L379.6,419.9" stroke="rgb(0,0,0)" stroke-width="5.8"/>
<path d="M384.7,358.6L385.1,363.7" stroke="rgb(0,0,0)" stroke-width="3.6"/>
<path d="M284.5,424.0L284.5,470.0" stroke="rgb(0,0,0)" stroke-width="7.7"/>
<path d="M303.9,413.8L304.6,470.0" stroke="rgb(0,0,0)" stroke-width="7.7"/>
<path d="M325.4,444.4L325.4,470.0" stroke="rgb(0,0,0)" stroke-width="5.8"/>
<path d="M325.4,419.9L325.4,440.4" stroke="rgb(51,51,51)" stroke-width="4.3"/>
<path d="M346.9,426.1L347.9,432.2" stroke="rgb(0,0,0)" stroke-width="4.3"/>
<path d="M368.3,340.2L368.3,352.5" stroke="rgb(0,0,0)" stroke-width="4.3"/>
<path d="M370.4,362.7L386.7,370.9" stroke="rgb(51,51,51)" stroke-width="7.2"/>
<path d="M399.0,334.1L394.9,342.3" stroke="rgb(51,51,51)" stroke-width="5.8"/>
<path d="M400.0,411.7L400.0,422.0" stroke="rgb(0,0,0)" stroke-width="5.8"/>
<path d="M425.5,347.4L425.5,357.6" stroke="rgb(255,255,255)" stroke-width="5.8"/>
<path d="M434.7,369.9L429.6,387.2" stroke="rgb(255,255,255)" stroke-width="5.8"/>
<path d="M454.2,373.9L454.2,388.2" stroke="rgb(255,255,255)" stroke-width="5.8"/>
<path d="M471.5,380.1L471.1,395.4" stroke="rgb(255,255,255)" stroke-width="4.3"/>
<path d="M412.3,405.6L411.2,430.1" stroke="rgb(255,255,255)" stroke-width="5.8"/>
<path d="M444.6,413.8L442.9,442.4" stroke="rgb(255,255,255)" stroke-width="6.6"/>
<path d="M494.4,415.8L495.0,443.4" stroke="rgb(255,255,255)" stroke-width="6.5"/>
<path d="M505.3,365.8L507.3,377.0" stroke="rgb(255,255,255)" stroke-width="5.8"/>
<path d="M517.5,340.2L523.6,360.7" stroke="rgb(255,255,255)" stroke-width="5.8"/>
<path d="M522.2,393.4L522.2,397.4" stroke="rgb(255,255,255)" stroke-width="4.3"/>
<path d="M441.9,330.0L442.9,334.1" stroke="rgb(255,255,255)" stroke-width="5.8"/>
<path d="M538.0,407.7L538.0,411.7" stroke="rgb(255,255,255)" stroke-width="4.3"/>
<path d="M472.6,426.1L469.5,444.4" stroke="rgb(255,255,255)" stroke-width="4.3"/>
<path d="M472.6,402.6L472.6,415.8" stroke="rgb(209,209,209)" stroke-width="5.0"/>
<path d="M459.3,452.6L467.4,452.6" stroke="rgb(255,255,255)" stroke-width="4.3"/>
<path d="M404.1,453.6L404.1,462.8" stroke="rgb(255,255,255)" stroke-width="5.8"/>
<path d="M437.2,461.8L437.2,470.0" stroke="rgb(255,255,255)" stroke-width="5.8"/>
<path d="M515.5,429.1L515.5,431.2" stroke="rgb(209,209,209)" stroke-width="4.3"/>
<path d="M528.3,373.9L528.8,375.0" stroke="rgb(209,209,209)" stroke-width="3.6"/>
<path d="M478.7,334.1L479.3,344.3" stroke="rgb(209,209,209)" stroke-width="4.3"/>
<path d="M520.6,452.6L521.0,456.7" stroke="rgb(209,209,209)" stroke-width="4.3"/>
<path d="M422.5,436.3L422.9,440.4" stroke="rgb(209,209,209)" stroke-width="3.6"/>
<path d="M535.9,462.8L535.9,466.9" stroke="rgb(209,209,209)" stroke-width="5.8"/>
<path d="M497.1,464.9L497.7,470.0" stroke="rgb(255,255,255)" stroke-width="4.3"/>
<path d="M455.2,347.4L455.6,349.4" stroke="rgb(209,209,209)" stroke-width="3.6"/>
<path d="M415.3,350.4C415.3,352.5 414.5,359.3 415.3,362.7C416.2,366.1 419.6,369.5 420.4,370.9" stroke="rgb(51,51,51)" stroke-width="5.8"/>
<path d="M418.4,367.8L421.5,371.9" stroke="rgb(0,0,0)" stroke-width="4.3"/>
<path d="M446.0,358.6L446.0,362.7" stroke="rgb(51,51,51)" stroke-width="4.3"/>
<path d="M441.9,382.1L441.9,385.2" stroke="rgb(0,0,0)" stroke-width="4.3"/>
<path d="M465.4,342.3L466.4,356.6" stroke="rgb(51,51,51)" stroke-width="4.3"/>
<path d="M480.7,370.9L481.7,381.1" stroke="rgb(0,0,0)" stroke-width="5.8"/>
<path d="M478.7,358.6L480.7,368.8" stroke="rgb(51,51,51)" stroke-width="4.3"/>
<path d="M487.9,394.4L487.9,398.5" stroke="rgb(0,0,0)" stroke-width="4.3"/>
<path d="M423.5,399.5L424.5,413.8" stroke="rgb(0,0,0)" stroke-width="5.8"/>
<path d="M403.1,391.3L403.1,411.7" stroke="rgb(0,0,0)" stroke-width="5.8"/>
<path d="M455.2,413.8L458.2,426.1" stroke="rgb(51,51,51)" stroke-width="5.8"/>
<path d="M432.7,427.1L432.7,431.2" stroke="rgb(51,51,51)" stroke-width="4.3"/>
<path d="M460.3,395.4L460.3,398.5" stroke="rgb(51,51,51)" stroke-width="3.6"/>
<path d="M500.1,350.4L508.3,353.5" stroke="rgb(51,51,51)" stroke-width="5.0"/>
<path d="M517.5,378.0L517.5,380.1" stroke="rgb(51,51,51)" stroke-width="4.3"/>
<path d="M509.3,397.4L509.3,401.5" stroke="rgb(51,51,51)" stroke-width="4.3"/>
<path d="M527.7,418.9L527.7,422.0" stroke="rgb(0,0,0)" stroke-width="4.3"/>
<path d="M530.8,438.3L531.8,450.6" stroke="rgb(0,0,0)" stroke-width="5.8"/>
<path d="M506.3,442.4L506.3,447.5" stroke="rgb(51,51,51)" stroke-width="5.8"/>
<path d="M413.3,448.5L413.3,456.7" stroke="rgb(0,0,0)" stroke-width="4.3"/>
<path d="M448.0,453.6L449.0,470.0" stroke="rgb(0,0,0)" stroke-width="5.8"/>
<path d="M474.6,463.9L474.6,466.9" stroke="rgb(51,51,51)" stroke-width="5.8"/>
<path d="M536.9,382.1L538.0,386.2" stroke="rgb(51,51,51)" stroke-width="5.8"/>
<path d="M417.4,337.2L417.4,340.2" stroke="rgb(51,51,51)" stroke-width="3.6"/>
<path d="M482.8,436.3L483.8,444.4" stroke="rgb(51,51,51)" stroke-width="3.6"/>
<path d="M430.7,450.6L430.7,453.6" stroke="rgb(51,51,51)" stroke-width="3.6"/>
<path d="M597.6,343.3L596.8,357.6" stroke="rgb(255,255,255)" stroke-width="5.8"/>
<path d="M614.6,349.4L610.5,367.8" stroke="rgb(255,255,255)" stroke-width="4.3"/>
<path d="M547.2,373.9L549.2,382.1" stroke="rgb(255,255,255)" stroke-width="5.8"/>
<path d="M585.0,376.0L585.0,381.1" stroke="rgb(255,255,255)" stroke-width="4.3"/>
<path d="M568.6,370.9C568.8,373.9 567.6,384.5 569.6,389.3C571.7,394.0 579.0,397.8 580.9,399.5" stroke="rgb(209,209,209)" stroke-width="4.9"/>
<path d="M545.1,349.4L545.1,358.6" stroke="rgb(255,255,255)" stroke-width="4.3"/>
<path d="M566.6,331.0L566.6,335.1" stroke="rgb(255,255,255)" stroke-width="4.3"/>
<path d="M639.1,331.0L639.1,340.2" stroke="rgb(255,255,255)" stroke-width="5.8"/>
<path d="M678.0,356.6L673.9,373.9" stroke="rgb(255,255,255)" stroke-width="5.8"/>
<path d="M649.3,391.3L647.3,399.5" stroke="rgb(255,255,255)" stroke-width="4.3"/>
<path d="M679.0,395.4L679.0,401.5" stroke="rgb(255,255,255)" stroke-width="4.3"/>
<path d="M671.8,420.9L672.8,444.4" stroke="rgb(255,255,255)" stroke-width="6.5"/>
<path d="M616.0,439.3L616.6,470.0" stroke="rgb(255,255,255)" stroke-width="6.6"/>
<path d="M550.2,411.7L551.2,419.9" stroke="rgb(255,255,255)" stroke-width="4.3"/>
<path d="M552.3,419.9L560.4,428.1" stroke="rgb(209,209,209)" stroke-width="4.3"/>
<path d="M554.3,450.6L552.3,464.9" stroke="rgb(255,255,255)" stroke-width="4.3"/>
<path d="M656.5,366.8L656.5,368.8" stroke="rgb(209,209,209)" stroke-width="4.3"/>
<path d="M618.7,394.4L618.7,396.4" stroke="rgb(209,209,209)" stroke-width="3.6"/>
<path d="M636.1,419.9L636.1,424.0" stroke="rgb(209,209,209)" stroke-width="3.6"/>
<path d="M586.0,446.5L586.0,450.6" stroke="rgb(209,209,209)" stroke-width="4.3"/>
<path d="M599.3,410.7L597.2,417.9" stroke="rgb(209,209,209)" stroke-width="3.6"/>
<path d="M647.3,434.2L647.3,438.3" stroke="rgb(209,209,209)" stroke-width="3.6"/>
<path d="M651.4,382.1L651.4,386.2" stroke="rgb(209,209,209)" stroke-width="3.6"/>
<path d="M626.9,330.0L627.9,347.4" stroke="rgb(0,0,0)" stroke-width="6.5"/>
<path d="M643.2,366.8L641.8,387.2" stroke="rgb(0,0,0)" stroke-width="6.5"/>
<path d="M558.8,368.8L560.0,381.1" stroke="rgb(0,0,0)" stroke-width="5.0"/>
<path d="M587.4,345.3L588.0,351.5" stroke="rgb(51,51,51)" stroke-width="4.3"/>
<path d="M595.2,372.9L595.2,376.0" stroke="rgb(0,0,0)" stroke-width="4.3"/>
<path d="M608.5,400.5L611.5,411.7" stroke="rgb(0,0,0)" stroke-width="5.0"/>
<path d="M624.8,423.0L625.4,434.2" stroke="rgb(0,0,0)" stroke-width="5.8"/>
<path d="M603.4,433.2L603.8,444.4" stroke="rgb(0,0,0)" stroke-width="5.8"/>
<path d="M567.6,437.3L567.6,440.4" stroke="rgb(0,0,0)" stroke-width="4.3"/>
<path d="M560.4,408.7L560.0,415.8" stroke="rgb(51,51,51)" stroke-width="4.3"/>
<path d="M662.2,376.0L661.0,393.4" stroke="rgb(0,0,0)" stroke-width="4.3"/>
<path d="M667.1,407.7L666.3,413.8" stroke="rgb(0,0,0)" stroke-width="4.3"/>
<path d="M660.6,425.0L658.5,449.6" stroke="rgb(0,0,0)" stroke-width="5.0"/>
<path d="M651.4,458.8L649.3,470.0" stroke="rgb(51,51,51)" stroke-width="4.3"/>
<path d="M625.8,454.7L625.8,459.8" stroke="rgb(51,51,51)" stroke-width="4.3"/>
<path d="M647.3,411.7L647.3,414.2" stroke="rgb(51,51,51)" stroke-width="3.6"/>
<path d="M658.5,344.3L658.5,347.4" stroke="rgb(51,51,51)" stroke-width="3.6"/>
<path d="M555.3,336.1L555.3,340.2" stroke="rgb(51,51,51)" stroke-width="2.9"/>
<path d="M640.1,442.4L640.1,444.4" stroke="rgb(51,51,51)" stroke-width="3.6"/>
<path d="M561.5,450.6L565.5,462.8" stroke="rgb(92,92,92)" stroke-width="4.3"/>
<path d="M540.0,383.1L540.0,389.3" stroke="rgb(51,51,51)" stroke-width="3.6"/>
<path d="M667.1,359.6L667.1,361.7" stroke="rgb(51,51,51)" stroke-width="2.9"/>
<path d="M679.6,377.0L679.6,383.1" stroke="rgb(51,51,51)" stroke-width="2.9"/>
<path d="M189.5,470.0L189.5,526.2" stroke="rgb(255,255,255)" stroke-width="6.6"/>
<path d="M208.3,494.5C207.9,504.1 207.1,537.6 205.8,551.7C204.6,565.9 201.6,574.7 200.7,579.3" stroke="rgb(255,255,255)" stroke-width="6.6"/>
<path d="M163.9,524.2L165.0,544.6" stroke="rgb(255,255,255)" stroke-width="7.2"/>
<path d="M132.3,486.3L132.7,489.4" stroke="rgb(255,255,255)" stroke-width="4.3"/>
<path d="M126.1,513.9L140.4,516.0" stroke="rgb(255,255,255)" stroke-width="6.5"/>
<path d="M141.5,500.7L140.4,510.9" stroke="rgb(209,209,209)" stroke-width="4.3"/>
<path d="M166.0,488.4L160.9,508.8" stroke="rgb(255,255,255)" stroke-width="4.3"/>
<path d="M253.9,491.5L255.9,509.9" stroke="rgb(255,255,255)" stroke-width="5.8"/>
<path d="M252.8,512.9L246.7,523.1" stroke="rgb(209,209,209)" stroke-width="4.3"/>
<path d="M240.6,470.0L240.6,485.3" stroke="rgb(255,255,255)" stroke-width="5.8"/>
<path d="M225.3,470.0L225.3,483.3" stroke="rgb(255,255,255)" stroke-width="5.8"/>
<path d="M208.3,470.0L208.3,474.1" stroke="rgb(255,255,255)" stroke-width="5.8"/>
<path d="M220.1,569.1L220.1,587.5" stroke="rgb(255,255,255)" stroke-width="5.8"/>
<path d="M237.5,572.2L237.5,596.7" stroke="rgb(255,255,255)" stroke-width="5.8"/>
<path d="M156.8,565.0L157.8,580.4" stroke="rgb(255,255,255)" stroke-width="5.0"/>
<path d="M136.3,586.5L133.3,595.7" stroke="rgb(255,255,255)" stroke-width="5.0"/>
<path d="M171.1,583.4L172.1,600.8" stroke="rgb(255,255,255)" stroke-width="5.0"/>
<path d="M152.7,597.7L152.7,610.0" stroke="rgb(255,255,255)" stroke-width="5.0"/>
<path d="M257.3,595.7L257.3,610.0" stroke="rgb(255,255,255)" stroke-width="5.8"/>
<path d="M144.1,540.5L142.9,557.9" stroke="rgb(209,209,209)" stroke-width="3.6"/>
<path d="M122.0,558.9L122.0,572.2" stroke="rgb(209,209,209)" stroke-width="4.3"/>
<path d="M227.3,529.3L224.2,541.5" stroke="rgb(209,209,209)" stroke-width="3.6"/>
<path d="M242.6,538.5L242.6,541.5" stroke="rgb(209,209,209)" stroke-width="3.6"/>
<path d="M189.5,592.6L190.5,597.7" stroke="rgb(209,209,209)" stroke-width="3.6"/>
<path d="M180.3,476.1L179.7,529.3" stroke="rgb(0,0,0)" stroke-width="7.7"/>
<path d="M198.7,470.0L197.7,533.4" stroke="rgb(0,0,0)" stroke-width="7.7"/>
<path d="M215.0,482.3L217.1,529.3" stroke="rgb(0,0,0)" stroke-width="6.7"/>
<path d="M232.0,470.0L232.0,484.3" stroke="rgb(0,0,0)" stroke-width="5.0"/>
<path d="M152.3,495.5L150.7,525.2" stroke="rgb(0,0,0)" stroke-width="5.8"/>
<path d="M133.3,548.7L132.7,557.9" stroke="rgb(0,0,0)" stroke-width="5.0"/>
<path d="M152.7,546.6L152.7,550.1" stroke="rgb(51,51,51)" stroke-width="4.3"/>
<path d="M127.2,530.3L127.8,532.3" stroke="rgb(0,0,0)" stroke-width="4.3"/>
<path d="M210.9,568.1C210.9,570.8 212.5,579.9 210.9,584.4C209.4,589.0 203.3,593.8 201.7,595.7" stroke="rgb(0,0,0)" stroke-width="7.7"/>
<path d="M229.3,558.9L228.3,592.6" stroke="rgb(0,0,0)" stroke-width="7.7"/>
<path d="M247.7,556.9L247.7,600.8" stroke="rgb(0,0,0)" stroke-width="7.7"/>
<path d="M254.9,528.2L252.8,542.6" stroke="rgb(0,0,0)" stroke-width="5.0"/>
<path d="M240.6,523.1L239.6,525.2" stroke="rgb(51,51,51)" stroke-width="4.3"/>
<path d="M180.7,551.7L177.2,564.0" stroke="rgb(51,51,51)" stroke-width="4.3"/>
<path d="M194.0,564.0L192.6,569.1" stroke="rgb(51,51,51)" stroke-width="4.3"/>
<path d="M122.0,477.2L140.4,478.2" stroke="rgb(51,51,51)" stroke-width="4.3"/>
<path d="M161.9,474.1L161.9,479.2" stroke="rgb(51,51,51)" stroke-width="4.3"/>
<path d="M146.6,568.1L146.6,576.3" stroke="rgb(92,92,92)" stroke-width="4.3"/>
<path d="M141.5,603.9L141.5,610.0" stroke="rgb(51,51,51)" stroke-width="4.3"/>
<path d="M163.9,592.6L165.0,602.8" stroke="rgb(51,51,51)" stroke-width="4.3"/>
<path d="M250.8,470.0L250.8,476.1" stroke="rgb(51,51,51)" stroke-width="4.3"/>
<path d="M274.3,470.0L274.3,495.5" stroke="rgb(255,255,255)" stroke-width="5.8"/>
<path d="M293.7,470.0L293.7,493.5" stroke="rgb(255,255,255)" stroke-width="5.8"/>
<path d="M313.1,470.0L312.7,488.4" stroke="rgb(255,255,255)" stroke-width="5.8"/>
<path d="M311.1,490.4L309.0,504.7" stroke="rgb(209,209,209)" stroke-width="4.3"/>
<path d="M331.1,470.0L330.5,503.7" stroke="rgb(255,255,255)" stroke-width="6.6"/>
<path d="M350.9,470.0L349.9,492.5" stroke="rgb(255,255,255)" stroke-width="5.8"/>
<path d="M349.9,494.5L349.9,510.9" stroke="rgb(209,209,209)" stroke-width="4.3"/>
<path d="M399.0,472.0L399.0,480.2" stroke="rgb(255,255,255)" stroke-width="5.8"/>
<path d="M263.1,509.9L265.1,529.3" stroke="rgb(255,255,255)" stroke-width="5.8"/>
<path d="M275.3,531.3L276.3,553.8" stroke="rgb(255,255,255)" stroke-width="5.8"/>
<path d="M390.8,507.8L390.8,518.0" stroke="rgb(255,255,255)" stroke-width="6.5"/>
<path d="M371.4,503.7L368.3,527.2" stroke="rgb(255,255,255)" stroke-width="4.3"/>
<path d="M330.5,529.3L330.5,537.4" stroke="rgb(255,255,255)" stroke-width="5.8"/>
<path d="M296.4,529.3L297.8,540.5" stroke="rgb(255,255,255)" stroke-width="5.8"/>
<path d="M298.8,541.5L303.9,549.7" stroke="rgb(209,209,209)" stroke-width="4.3"/>
<path d="M332.6,550.7C332.9,556.3 334.2,574.6 334.6,584.4C335.0,594.3 335.1,605.7 335.2,610.0" stroke="rgb(255,255,255)" stroke-width="6.6"/>
<path d="M356.1,551.7L354.4,610.0" stroke="rgb(255,255,255)" stroke-width="4.9"/>
<path d="M376.5,550.7L374.4,610.0" stroke="rgb(255,255,255)" stroke-width="6.6"/>
<path d="M394.5,528.2L392.8,610.0" stroke="rgb(255,255,255)" stroke-width="5.7"/>
<path d="M280.4,587.5L282.5,597.7" stroke="rgb(255,255,255)" stroke-width="5.8"/>
<path d="M263.1,572.2L263.1,586.5" stroke="rgb(209,209,209)" stroke-width="4.3"/>
<path d="M314.2,596.7L314.2,610.0" stroke="rgb(209,209,209)" stroke-width="4.3"/>
<path d="M265.1,602.8L265.1,610.0" stroke="rgb(209,209,209)" stroke-width="3.6"/>
<path d="M264.1,470.0L264.1,497.6" stroke="rgb(0,0,0)" stroke-width="5.8"/>
<path d="M283.5,470.0L283.5,491.5" stroke="rgb(0,0,0)" stroke-width="5.8"/>
<path d="M303.9,470.0L303.9,488.4" stroke="rgb(0,0,0)" stroke-width="5.0"/>
<path d="M321.3,474.1L320.3,508.8" stroke="rgb(0,0,0)" stroke-width="6.7"/>
<path d="M340.7,482.3C340.6,487.0 339.7,500.5 339.7,510.9C339.7,521.3 340.6,539.0 340.7,544.6" stroke="rgb(0,0,0)" stroke-width="7.7"/>
<path d="M360.6,488.4L359.7,528.2" stroke="rgb(0,0,0)" stroke-width="8.6"/>
<path d="M379.6,507.8L379.6,518.0" stroke="rgb(0,0,0)" stroke-width="4.3"/>
<path d="M285.5,529.3L287.6,545.6" stroke="rgb(0,0,0)" stroke-width="5.8"/>
<path d="M276.3,516.0L276.3,521.1" stroke="rgb(51,51,51)" stroke-width="4.3"/>
<path d="M297.8,501.7L297.8,505.8" stroke="rgb(51,51,51)" stroke-width="4.3"/>
<path d="M386.7,540.5L384.7,600.8" stroke="rgb(0,0,0)" stroke-width="7.7"/>
<path d="M366.7,558.9L364.6,600.8" stroke="rgb(0,0,0)" stroke-width="7.7"/>
<path d="M344.2,557.9L344.8,610.0" stroke="rgb(0,0,0)" stroke-width="7.7"/>
<path d="M324.4,575.3L324.4,610.0" stroke="rgb(0,0,0)" stroke-width="7.7"/>
<path d="M268.6,589.6L267.8,602.8" stroke="rgb(0,0,0)" stroke-width="5.0"/>
<path d="M399.6,494.5L399.6,510.9" stroke="rgb(0,0,0)" stroke-width="4.3"/>
<path d="M261.0,547.7L262.0,555.8" stroke="rgb(51,51,51)" stroke-width="3.6"/>
<path d="M301.9,580.4L302.9,592.6" stroke="rgb(51,51,51)" stroke-width="3.6"/>
<path d="M378.5,473.1L382.6,484.3" stroke="rgb(51,51,51)" stroke-width="4.3"/>
<path d="M306.0,521.1L306.0,525.2" stroke="rgb(51,51,51)" stroke-width="3.6"/>
<path d="M418.4,477.2C417.7,481.1 415.5,492.5 414.3,500.7C413.1,508.8 411.8,521.9 411.2,526.2" stroke="rgb(255,255,255)" stroke-width="6.6"/>
<path d="M437.8,470.0L436.8,481.2" stroke="rgb(255,255,255)" stroke-width="5.8"/>
<path d="M433.7,500.7C433.2,505.8 432.0,521.4 430.7,531.3C429.3,541.2 426.4,555.2 425.5,559.9" stroke="rgb(255,255,255)" stroke-width="6.6"/>
<path d="M463.4,470.0C463.0,472.0 462.2,477.7 461.3,482.3C460.5,486.9 458.8,495.0 458.2,497.6" stroke="rgb(255,255,255)" stroke-width="8.2"/>
<path d="M501.2,495.5L508.3,505.8" stroke="rgb(255,255,255)" stroke-width="6.5"/>
<path d="M531.2,519.0C531.1,524.5 531.2,536.6 530.8,551.7C530.4,566.9 529.1,600.3 528.8,610.0" stroke="rgb(255,255,255)" stroke-width="6.6"/>
<path d="M475.2,535.4C475.4,539.8 476.7,551.7 476.6,562.0C476.5,572.2 474.9,590.9 474.6,596.7" stroke="rgb(255,255,255)" stroke-width="7.4"/>
<path d="M512.4,542.6C512.3,548.9 512.8,569.1 512.0,580.4C511.1,591.6 508.1,605.1 507.3,610.0" stroke="rgb(255,255,255)" stroke-width="5.7"/>
<path d="M458.2,553.8C458.1,558.9 457.7,575.1 457.2,584.4C456.7,593.8 455.5,605.7 455.2,610.0" stroke="rgb(255,255,255)" stroke-width="5.7"/>
<path d="M440.9,569.1L439.9,588.5" stroke="rgb(255,255,255)" stroke-width="6.5"/>
<path d="M493.0,584.4L490.9,610.0" stroke="rgb(255,255,255)" stroke-width="5.0"/>
<path d="M401.0,472.0L400.0,482.3" stroke="rgb(255,255,255)" stroke-width="4.3"/>
<path d="M406.1,602.8L408.2,610.0" stroke="rgb(255,255,255)" stroke-width="4.3"/>
<path d="M494.0,520.1L494.0,530.3" stroke="rgb(209,209,209)" stroke-width="4.3"/>
<path d="M461.3,518.0L461.3,529.3" stroke="rgb(209,209,209)" stroke-width="3.6"/>
<path d="M481.7,496.6L482.2,510.9" stroke="rgb(209,209,209)" stroke-width="3.6"/>
<path d="M453.1,507.8L458.2,507.8" stroke="rgb(209,209,209)" stroke-width="2.9"/>
<path d="M408.2,551.7L408.2,557.9" stroke="rgb(209,209,209)" stroke-width="3.6"/>
<path d="M424.5,570.1L424.5,576.3" stroke="rgb(209,209,209)" stroke-width="3.6"/>
<path d="M482.8,476.1L483.8,484.3" stroke="rgb(209,209,209)" stroke-width="3.6"/>
<path d="M495.0,562.0L495.0,568.1" stroke="rgb(209,209,209)" stroke-width="3.6"/>
<path d="M512.4,477.2L512.4,479.2" stroke="rgb(209,209,209)" stroke-width="2.9"/>
<path d="M403.1,497.6L404.1,544.6" stroke="rgb(0,0,0)" stroke-width="8.6"/>
<path d="M422.9,499.6C422.5,503.2 421.4,513.3 420.4,521.1C419.5,528.9 417.9,542.4 417.4,546.6" stroke="rgb(0,0,0)" stroke-width="6.7"/>
<path d="M442.9,496.6L443.3,504.7" stroke="rgb(0,0,0)" stroke-width="5.8"/>
<path d="M470.5,504.7L470.5,521.1" stroke="rgb(0,0,0)" stroke-width="5.8"/>
<path d="M451.1,523.1L451.1,528.2" stroke="rgb(0,0,0)" stroke-width="4.3"/>
<path d="M484.2,524.2L485.4,537.4" stroke="rgb(0,0,0)" stroke-width="5.8"/>
<path d="M437.2,536.4L435.8,555.8" stroke="rgb(0,0,0)" stroke-width="5.0"/>
<path d="M466.4,542.6L466.4,592.6" stroke="rgb(0,0,0)" stroke-width="7.7"/>
<path d="M449.0,559.9L450.1,576.3" stroke="rgb(0,0,0)" stroke-width="5.0"/>
<path d="M486.9,549.7C486.7,555.5 486.7,574.4 485.8,584.4C485.0,594.5 482.4,605.7 481.7,610.0" stroke="rgb(0,0,0)" stroke-width="7.7"/>
<path d="M503.2,564.0C502.9,568.8 501.8,585.0 501.2,592.6C500.5,600.3 499.5,607.1 499.1,610.0" stroke="rgb(0,0,0)" stroke-width="7.7"/>
<path d="M522.2,550.7C521.9,556.3 521.2,574.6 520.6,584.4C520.0,594.3 518.9,605.7 518.5,610.0" stroke="rgb(0,0,0)" stroke-width="7.7"/>
<path d="M415.3,581.4L417.4,596.7" stroke="rgb(0,0,0)" stroke-width="5.8"/>
<path d="M451.1,470.0L452.1,476.1" stroke="rgb(0,0,0)" stroke-width="5.0"/>
<path d="M427.6,470.0L427.6,473.1" stroke="rgb(0,0,0)" stroke-width="5.0"/>
<path d="M409.2,470.0L409.2,473.1" stroke="rgb(0,0,0)" stroke-width="4.3"/>
<path d="M540.0,555.8L539.0,610.0" stroke="rgb(0,0,0)" stroke-width="5.8"/>
<path d="M431.7,559.9L432.7,566.1" stroke="rgb(51,51,51)" stroke-width="4.3"/>
<path d="M401.0,583.4L401.0,594.7" stroke="rgb(0,0,0)" stroke-width="4.3"/>
<path d="M448.0,590.6L447.0,600.8" stroke="rgb(51,51,51)" stroke-width="3.6"/>
<path d="M470.5,478.2L471.5,490.4" stroke="rgb(51,51,51)" stroke-width="3.6"/>
<path d="M533.9,490.4L534.9,494.5" stroke="rgb(51,51,51)" stroke-width="3.6"/>
<path d="M551.2,501.7C551.9,504.2 555.5,508.7 555.3,517.0C555.2,525.4 551.8,536.3 550.2,551.7C548.7,567.2 546.8,600.3 546.1,610.0" stroke="rgb(255,255,255)" stroke-width="7.4"/>
<path d="M587.4,540.5C586.8,545.8 584.9,560.6 583.9,572.2C583.0,583.8 582.2,603.7 581.9,610.0" stroke="rgb(255,255,255)" stroke-width="6.6"/>
<path d="M607.0,542.6C606.1,549.5 602.3,573.2 601.3,584.4C600.4,595.7 601.3,605.7 601.3,610.0" stroke="rgb(255,255,255)" stroke-width="6.6"/>
<path d="M640.6,476.1C640.3,480.2 640.4,492.1 639.1,500.7C637.9,509.2 634.9,520.8 633.0,527.2C631.1,533.7 628.7,537.4 627.9,539.5" stroke="rgb(255,255,255)" stroke-width="6.6"/>
<path d="M660.6,486.3C661.3,488.1 663.3,491.5 664.7,496.6C666.0,501.7 668.1,513.6 668.8,517.0" stroke="rgb(255,255,255)" stroke-width="8.2"/>
<path d="M667.7,535.4C668.9,537.4 673.5,541.5 674.9,547.7C676.2,553.8 675.7,568.1 675.9,572.2" stroke="rgb(255,255,255)" stroke-width="8.2"/>
<path d="M567.6,548.7L567.6,557.9" stroke="rgb(255,255,255)" stroke-width="5.0"/>
<path d="M563.5,583.4L563.5,610.0" stroke="rgb(255,255,255)" stroke-width="5.8"/>
<path d="M620.1,583.4L618.7,610.0" stroke="rgb(255,255,255)" stroke-width="5.0"/>
<path d="M652.4,572.2L651.4,592.6" stroke="rgb(255,255,255)" stroke-width="5.0"/>
<path d="M636.1,576.3L634.4,610.0" stroke="rgb(255,255,255)" stroke-width="5.7"/>
<path d="M672.8,591.6L670.8,610.0" stroke="rgb(255,255,255)" stroke-width="5.8"/>
<path d="M619.7,483.3L619.7,488.4" stroke="rgb(255,255,255)" stroke-width="5.0"/>
<path d="M617.7,470.0L617.7,473.1" stroke="rgb(255,255,255)" stroke-width="5.0"/>
<path d="M577.8,519.0L577.8,522.1" stroke="rgb(255,255,255)" stroke-width="4.3"/>
<path d="M598.2,512.9L597.6,519.0" stroke="rgb(255,255,255)" stroke-width="4.3"/>
<path d="M544.1,488.4L544.5,491.5" stroke="rgb(255,255,255)" stroke-width="4.3"/>
<path d="M679.0,510.9L679.0,529.3" stroke="rgb(255,255,255)" stroke-width="4.3"/>
<path d="M582.9,470.0L582.9,474.1" stroke="rgb(209,209,209)" stroke-width="3.6"/>
<path d="M542.5,511.9L543.1,549.7" stroke="rgb(0,0,0)" stroke-width="8.6"/>
<path d="M558.4,552.8C557.9,557.7 556.2,572.9 555.3,582.4C554.5,591.9 553.6,605.4 553.3,610.0" stroke="rgb(0,0,0)" stroke-width="7.7"/>
<path d="M576.8,543.6L577.2,555.8" stroke="rgb(0,0,0)" stroke-width="5.8"/>
<path d="M595.2,551.7L593.1,576.3" stroke="rgb(0,0,0)" stroke-width="5.8"/>
<path d="M615.6,542.6L615.2,568.1" stroke="rgb(0,0,0)" stroke-width="6.5"/>
<path d="M611.9,577.3L609.5,596.7" stroke="rgb(0,0,0)" stroke-width="5.8"/>
<path d="M629.9,479.2L629.5,498.6" stroke="rgb(0,0,0)" stroke-width="5.8"/>
<path d="M650.4,479.2C650.2,483.1 650.4,494.4 649.3,502.7C648.3,511.0 645.1,524.8 644.2,529.3" stroke="rgb(0,0,0)" stroke-width="6.7"/>
<path d="M655.5,545.6C656.2,548.0 658.2,554.6 659.6,559.9C660.9,565.2 663.0,574.4 663.6,577.3" stroke="rgb(0,0,0)" stroke-width="7.7"/>
<path d="M669.8,476.1L678.0,484.3" stroke="rgb(0,0,0)" stroke-width="5.0"/>
<path d="M558.8,493.5L559.4,496.6" stroke="rgb(0,0,0)" stroke-width="4.3"/>
<path d="M593.5,478.2L594.2,482.3" stroke="rgb(0,0,0)" stroke-width="4.3"/>
<path d="M575.8,495.5L576.4,499.6" stroke="rgb(0,0,0)" stroke-width="4.3"/>
<path d="M597.2,490.4L597.2,494.5" stroke="rgb(51,51,51)" stroke-width="3.6"/>
<path d="M572.7,581.4L573.7,610.0" stroke="rgb(0,0,0)" stroke-width="6.7"/>
<path d="M592.7,592.6L592.1,610.0" stroke="rgb(0,0,0)" stroke-width="4.3"/>
<path d="M627.9,580.4L626.9,610.0" stroke="rgb(0,0,0)" stroke-width="5.8"/>
<path d="M644.2,596.7L643.2,610.0" stroke="rgb(0,0,0)" stroke-width="4.3"/>
<path d="M662.6,584.4L660.6,610.0" stroke="rgb(51,51,51)" stroke-width="4.3"/>
<path d="M587.0,512.9L589.0,515.0" stroke="rgb(51,51,51)" stroke-width="3.6"/>
<path d="M541.0,471.0L542.0,476.1" stroke="rgb(51,51,51)" stroke-width="3.6"/>
<path d="M635.0,548.7L635.0,552.8" stroke="rgb(51,51,51)" stroke-width="3.6"/>
<path d="M564.5,527.2L566.6,531.3" stroke="rgb(51,51,51)" stroke-width="3.6"/>
<path d="M680.0,494.5L680.0,502.7" stroke="rgb(0,0,0)" stroke-width="3.6"/>
<path d="M153.7,610.0C154.1,615.1 155.8,632.1 155.8,640.7C155.8,649.2 154.7,655.6 153.7,661.1C152.7,666.5 150.3,671.3 149.6,673.4" stroke="rgb(255,255,255)" stroke-width="8.2"/>
<path d="M150.7,675.4L160.9,680.5" stroke="rgb(255,255,255)" stroke-width="5.8"/>
<path d="M156.8,683.6C155.9,686.6 152.7,695.2 151.7,702.0C150.7,708.8 150.8,720.7 150.7,724.4" stroke="rgb(255,255,255)" stroke-width="7.4"/>
<path d="M131.2,683.6C131.9,686.0 134.6,693.1 135.3,697.9C136.0,702.6 135.3,709.8 135.3,712.2" stroke="rgb(255,255,255)" stroke-width="8.2"/>
<path d="M121.0,629.4L122.0,650.9" stroke="rgb(255,255,255)" stroke-width="5.8"/>
<path d="M175.2,653.9C175.9,655.5 177.9,660.2 179.3,663.1C180.6,666.0 182.7,669.9 183.4,671.3" stroke="rgb(255,255,255)" stroke-width="5.0"/>
<path d="M181.3,673.4L179.3,691.7" stroke="rgb(209,209,209)" stroke-width="5.0"/>
<path d="M212.0,716.3L205.8,730.6" stroke="rgb(255,255,255)" stroke-width="7.2"/>
<path d="M229.3,721.4L229.3,732.6" stroke="rgb(255,255,255)" stroke-width="5.0"/>
<path d="M219.7,683.6L218.1,699.9" stroke="rgb(255,255,255)" stroke-width="5.0"/>
<path d="M201.3,681.5L199.7,697.9" stroke="rgb(255,255,255)" stroke-width="4.3"/>
<path d="M238.5,666.2L241.6,674.4" stroke="rgb(255,255,255)" stroke-width="5.8"/>
<path d="M244.7,695.8L244.7,704.0" stroke="rgb(255,255,255)" stroke-width="5.0"/>
<path d="M187.4,632.5L187.4,636.6" stroke="rgb(255,255,255)" stroke-width="4.3"/>
<path d="M220.1,615.1L220.1,626.3" stroke="rgb(209,209,209)" stroke-width="4.3"/>
<path d="M149.6,742.8L149.6,750.0" stroke="rgb(255,255,255)" stroke-width="5.0"/>
<path d="M179.3,734.7L179.3,745.9" stroke="rgb(209,209,209)" stroke-width="4.3"/>
<path d="M132.3,720.4L132.3,728.5" stroke="rgb(209,209,209)" stroke-width="4.3"/>
<path d="M128.2,616.1L129.2,620.2" stroke="rgb(209,209,209)" stroke-width="4.3"/>
<path d="M166.0,726.5L169.0,728.5" stroke="rgb(209,209,209)" stroke-width="4.3"/>
<path d="M136.3,632.5L136.3,643.7" stroke="rgb(209,209,209)" stroke-width="3.6"/>
<path d="M181.3,702.0L185.4,710.1" stroke="rgb(209,209,209)" stroke-width="3.6"/>
<path d="M260.0,708.1L260.0,720.4" stroke="rgb(255,255,255)" stroke-width="3.6"/>
<path d="M163.3,612.0L166.0,622.3" stroke="rgb(0,0,0)" stroke-width="5.0"/>
<path d="M167.0,624.3L174.2,630.4" stroke="rgb(51,51,51)" stroke-width="5.0"/>
<path d="M198.7,614.1L197.7,628.4" stroke="rgb(0,0,0)" stroke-width="5.0"/>
<path d="M230.4,619.2L230.4,629.4" stroke="rgb(0,0,0)" stroke-width="5.8"/>
<path d="M232.4,638.6L232.4,649.9" stroke="rgb(51,51,51)" stroke-width="3.6"/>
<path d="M252.8,629.4L252.8,640.7" stroke="rgb(0,0,0)" stroke-width="6.5"/>
<path d="M144.5,653.9L144.1,664.2" stroke="rgb(0,0,0)" stroke-width="4.3"/>
<path d="M210.9,642.7L210.9,653.9" stroke="rgb(51,51,51)" stroke-width="5.8"/>
<path d="M186.4,650.9L188.5,656.0" stroke="rgb(51,51,51)" stroke-width="4.3"/>
<path d="M193.6,671.3L190.5,691.7" stroke="rgb(0,0,0)" stroke-width="5.8"/>
<path d="M211.6,675.4L208.9,691.7" stroke="rgb(0,0,0)" stroke-width="5.0"/>
<path d="M229.3,674.4L230.0,691.7" stroke="rgb(0,0,0)" stroke-width="5.8"/>
<path d="M254.9,690.7L254.9,703.0" stroke="rgb(0,0,0)" stroke-width="5.0"/>
<path d="M255.9,671.3L255.9,675.4" stroke="rgb(51,51,51)" stroke-width="4.3"/>
<path d="M221.8,713.2L220.1,724.4" stroke="rgb(0,0,0)" stroke-width="5.0"/>
<path d="M175.2,715.3L175.2,720.4" stroke="rgb(51,51,51)" stroke-width="5.0"/>
<path d="M190.5,728.5L189.5,737.7" stroke="rgb(51,51,51)" stroke-width="5.0"/>
<path d="M163.9,663.1L163.9,666.2" stroke="rgb(51,51,51)" stroke-width="3.6"/>
<path d="M124.1,666.2L126.1,669.3" stroke="rgb(51,51,51)" stroke-width="4.3"/>
<path d="M161.9,699.9L161.9,712.2" stroke="rgb(92,92,92)" stroke-width="4.3"/>
<path d="M247.7,652.9L247.7,656.0" stroke="rgb(51,51,51)" stroke-width="3.6"/>
<path d="M238.5,716.3L238.5,724.4" stroke="rgb(51,51,51)" stroke-width="3.6"/>
<path d="M144.1,623.3L144.5,626.3" stroke="rgb(51,51,51)" stroke-width="3.6"/>
<path d="M333.6,610.0L332.6,630.4" stroke="rgb(255,255,255)" stroke-width="5.0"/>
<path d="M352.4,641.7L352.0,679.5" stroke="rgb(255,255,255)" stroke-width="7.4"/>
<path d="M370.4,618.2C370.5,623.6 371.0,641.0 371.4,650.9C371.7,660.8 372.2,673.0 372.4,677.4" stroke="rgb(255,255,255)" stroke-width="6.6"/>
<path d="M389.8,610.0C389.8,615.1 389.6,631.1 389.8,640.7C389.9,650.2 390.6,662.8 390.8,667.2" stroke="rgb(255,255,255)" stroke-width="7.4"/>
<path d="M304.6,640.7L299.9,669.3" stroke="rgb(255,255,255)" stroke-width="6.6"/>
<path d="M299.9,675.4L300.5,695.8" stroke="rgb(255,255,255)" stroke-width="5.0"/>
<path d="M284.5,621.2L284.5,630.4" stroke="rgb(255,255,255)" stroke-width="5.0"/>
<path d="M282.5,640.7L282.5,650.9" stroke="rgb(209,209,209)" stroke-width="4.3"/>
<path d="M320.3,668.2L320.3,687.7" stroke="rgb(255,255,255)" stroke-width="4.3"/>
<path d="M263.1,707.1C263.4,710.0 264.6,718.8 265.1,724.4C265.6,730.1 266.0,738.1 266.1,740.8" stroke="rgb(255,255,255)" stroke-width="8.2"/>
<path d="M266.1,687.7L266.5,691.7" stroke="rgb(255,255,255)" stroke-width="5.0"/>
<path d="M391.8,712.2L393.9,740.8" stroke="rgb(255,255,255)" stroke-width="6.6"/>
<path d="M282.5,734.7L282.5,742.8" stroke="rgb(255,255,255)" stroke-width="5.0"/>
<path d="M305.0,718.3L308.0,730.6" stroke="rgb(209,209,209)" stroke-width="4.3"/>
<path d="M277.4,665.2L278.4,667.2" stroke="rgb(209,209,209)" stroke-width="3.6"/>
<path d="M349.9,732.6L349.9,740.8" stroke="rgb(209,209,209)" stroke-width="4.3"/>
<path d="M315.2,616.1L315.2,628.4" stroke="rgb(209,209,209)" stroke-width="3.6"/>
<path d="M373.4,716.3L373.4,724.4" stroke="rgb(209,209,209)" stroke-width="3.6"/>
<path d="M391.8,697.9L391.8,702.0" stroke="rgb(209,209,209)" stroke-width="3.6"/>
<path d="M280.4,610.0L280.4,614.1" stroke="rgb(209,209,209)" stroke-width="4.3"/>
<path d="M292.7,639.6C292.2,643.2 290.7,654.8 289.6,661.1C288.6,667.4 287.1,674.7 286.6,677.4" stroke="rgb(0,0,0)" stroke-width="7.7"/>
<path d="M287.6,695.8L287.6,708.1" stroke="rgb(0,0,0)" stroke-width="5.0"/>
<path d="M323.4,610.0L322.3,630.4" stroke="rgb(51,51,51)" stroke-width="4.3"/>
<path d="M321.3,632.5C320.5,634.9 318.1,642.0 316.2,646.8C314.3,651.6 311.3,656.0 310.1,661.1C308.9,666.2 309.4,671.3 309.0,677.4C308.7,683.6 308.2,694.5 308.0,697.9" stroke="rgb(0,0,0)" stroke-width="6.7"/>
<path d="M341.7,610.0L342.8,634.5" stroke="rgb(0,0,0)" stroke-width="4.3"/>
<path d="M343.8,636.6L341.7,669.3" stroke="rgb(0,0,0)" stroke-width="6.7"/>
<path d="M340.7,689.7L341.7,706.1" stroke="rgb(0,0,0)" stroke-width="5.0"/>
<path d="M361.2,610.0C361.2,616.8 361.0,638.3 361.2,650.9C361.3,663.5 362.0,679.8 362.2,685.6" stroke="rgb(0,0,0)" stroke-width="6.7"/>
<path d="M380.6,610.0C380.4,616.8 379.7,637.6 379.6,650.9C379.4,664.2 379.6,683.2 379.6,689.7" stroke="rgb(0,0,0)" stroke-width="7.7"/>
<path d="M399.0,610.0L398.6,646.8" stroke="rgb(0,0,0)" stroke-width="6.7"/>
<path d="M340.7,708.1C339.5,709.8 335.3,715.1 333.6,718.3C331.9,721.6 331.0,726.0 330.5,727.5" stroke="rgb(0,0,0)" stroke-width="5.0"/>
<path d="M363.2,705.0C363.4,708.3 364.4,717.0 364.2,724.4C364.1,731.9 362.5,745.7 362.2,750.0" stroke="rgb(0,0,0)" stroke-width="7.7"/>
<path d="M379.6,721.4C380.4,724.6 383.6,736.0 384.7,740.8C385.7,745.6 385.5,748.5 385.7,750.0" stroke="rgb(0,0,0)" stroke-width="6.7"/>
<path d="M262.5,634.5L263.1,639.6" stroke="rgb(0,0,0)" stroke-width="5.0"/>
<path d="M265.1,658.0L265.1,661.1" stroke="rgb(51,51,51)" stroke-width="4.3"/>
<path d="M307.0,615.1L307.0,620.2" stroke="rgb(51,51,51)" stroke-width="4.3"/>
<path d="M293.7,725.5L293.7,735.7" stroke="rgb(0,0,0)" stroke-width="5.0"/>
<path d="M275.3,721.4L275.3,728.5" stroke="rgb(51,51,51)" stroke-width="4.3"/>
<path d="M341.7,742.8L343.8,750.0" stroke="rgb(51,51,51)" stroke-width="4.3"/>
<path d="M400.0,650.9L400.0,681.5" stroke="rgb(51,51,51)" stroke-width="4.1"/>
<path d="M347.9,693.8L358.1,696.9" stroke="rgb(92,92,92)" stroke-width="4.3"/>
<path d="M408.2,610.0L407.8,631.5" stroke="rgb(255,255,255)" stroke-width="6.5"/>
<path d="M411.2,688.7L412.3,724.4" stroke="rgb(255,255,255)" stroke-width="7.4"/>
<path d="M435.2,660.1C434.7,664.7 433.6,678.3 432.7,687.7C431.8,697.0 430.1,711.5 429.6,716.3" stroke="rgb(255,255,255)" stroke-width="7.4"/>
<path d="M453.5,642.7C453.3,649.2 453.0,668.9 452.1,681.5C451.2,694.1 448.7,712.2 448.0,718.3" stroke="rgb(255,255,255)" stroke-width="7.4"/>
<path d="M471.5,628.4C471.5,632.1 471.7,642.7 471.5,650.9C471.4,659.0 470.7,673.0 470.5,677.4" stroke="rgb(255,255,255)" stroke-width="6.6"/>
<path d="M488.9,615.1C488.9,619.7 489.1,633.7 488.9,642.7C488.7,651.7 488.1,664.8 487.9,669.3" stroke="rgb(255,255,255)" stroke-width="7.4"/>
<path d="M507.3,610.0C507.1,614.1 507.3,624.3 506.3,634.5C505.3,644.7 502.2,662.1 501.2,671.3C500.1,680.5 500.3,686.6 500.1,689.7" stroke="rgb(255,255,255)" stroke-width="6.6"/>
<path d="M526.3,610.0C526.0,616.8 525.6,637.2 524.7,650.9C523.7,664.5 521.3,679.5 520.6,691.7C519.9,704.0 520.6,719.0 520.6,724.4" stroke="rgb(255,255,255)" stroke-width="7.4"/>
<path d="M493.0,737.7L493.0,750.0" stroke="rgb(255,255,255)" stroke-width="5.0"/>
<path d="M472.6,738.8L472.6,750.0" stroke="rgb(255,255,255)" stroke-width="4.3"/>
<path d="M420.4,658.0L420.4,661.1" stroke="rgb(255,255,255)" stroke-width="4.3"/>
<path d="M423.5,624.3L423.5,630.4" stroke="rgb(209,209,209)" stroke-width="3.6"/>
<path d="M496.1,706.1L496.1,711.2" stroke="rgb(209,209,209)" stroke-width="4.3"/>
<path d="M539.0,708.1L539.0,728.5" stroke="rgb(209,209,209)" stroke-width="3.6"/>
<path d="M400.0,610.0L400.0,622.3" stroke="rgb(0,0,0)" stroke-width="5.0"/>
<path d="M401.0,687.7L401.0,718.3" stroke="rgb(0,0,0)" stroke-width="8.6"/>
<path d="M417.4,610.0L417.4,613.1" stroke="rgb(0,0,0)" stroke-width="4.3"/>
<path d="M430.7,635.5L430.7,643.7" stroke="rgb(0,0,0)" stroke-width="5.0"/>
<path d="M413.3,640.7L411.2,661.1" stroke="rgb(0,0,0)" stroke-width="5.8"/>
<path d="M444.6,649.9L441.9,681.5" stroke="rgb(0,0,0)" stroke-width="7.7"/>
<path d="M439.9,687.7C439.3,691.7 437.6,704.7 436.8,712.2C435.9,719.7 435.1,729.2 434.7,732.6" stroke="rgb(0,0,0)" stroke-width="7.7"/>
<path d="M462.9,646.8C462.7,652.6 462.1,671.3 461.3,681.5C460.5,691.7 459.3,699.9 458.2,708.1C457.2,716.3 455.7,726.8 455.2,730.6" stroke="rgb(0,0,0)" stroke-width="8.6"/>
<path d="M479.3,632.5C479.2,635.5 479.0,644.7 478.7,650.9C478.4,657.0 477.8,666.2 477.7,669.3" stroke="rgb(0,0,0)" stroke-width="6.7"/>
<path d="M475.6,671.3L474.6,683.6" stroke="rgb(51,51,51)" stroke-width="4.3"/>
<path d="M498.5,618.2C498.3,623.6 498.2,641.0 497.1,650.9C496.0,660.8 493.3,669.6 492.0,677.4C490.6,685.3 489.4,694.5 488.9,697.9" stroke="rgb(0,0,0)" stroke-width="7.7"/>
<path d="M516.9,610.0C516.7,615.1 516.4,630.4 515.5,640.7C514.6,650.9 512.2,663.1 511.4,671.3C510.5,679.5 510.5,686.6 510.4,689.7" stroke="rgb(0,0,0)" stroke-width="7.7"/>
<path d="M536.5,610.0C536.2,616.8 535.7,637.2 534.9,650.9C534.1,664.5 532.5,679.5 531.8,691.7C531.1,704.0 531.0,719.0 530.8,724.4" stroke="rgb(0,0,0)" stroke-width="8.6"/>
<path d="M422.1,679.5C421.8,682.9 421.1,693.1 420.4,699.9C419.8,706.7 418.7,717.0 418.4,720.4" stroke="rgb(0,0,0)" stroke-width="7.7"/>
<path d="M479.7,610.0L480.7,616.1" stroke="rgb(0,0,0)" stroke-width="5.0"/>
<path d="M462.3,610.0L462.3,619.2" stroke="rgb(0,0,0)" stroke-width="4.3"/>
<path d="M477.7,720.4C479.7,720.7 485.2,720.0 489.9,722.4C494.7,724.8 503.5,732.6 506.3,734.7" stroke="rgb(51,51,51)" stroke-width="7.4"/>
<path d="M487.9,722.4L489.9,724.4" stroke="rgb(0,0,0)" stroke-width="4.3"/>
<path d="M462.3,741.8L461.3,750.0" stroke="rgb(0,0,0)" stroke-width="4.3"/>
<path d="M412.3,732.6L404.1,744.9" stroke="rgb(51,51,51)" stroke-width="4.3"/>
<path d="M530.8,732.6L528.8,750.0" stroke="rgb(51,51,51)" stroke-width="4.3"/>
<path d="M511.4,732.6L511.4,750.0" stroke="rgb(51,51,51)" stroke-width="3.6"/>
<path d="M482.8,742.8L482.8,750.0" stroke="rgb(0,0,0)" stroke-width="4.3"/>
<path d="M544.1,610.0C544.0,615.1 544.0,630.8 543.7,640.7C543.3,650.5 542.3,664.5 542.0,669.3" stroke="rgb(255,255,255)" stroke-width="7.4"/>
<path d="M541.0,671.3L541.0,704.0" stroke="rgb(255,255,255)" stroke-width="4.9"/>
<path d="M562.5,610.0C562.3,618.5 561.5,646.8 561.5,661.1C561.5,675.4 561.5,687.3 562.5,695.8C563.5,704.4 566.7,709.5 567.6,712.2" stroke="rgb(255,255,255)" stroke-width="7.4"/>
<path d="M582.5,610.0C582.6,618.5 583.2,647.5 582.9,661.1C582.6,674.7 582.6,683.2 580.9,691.7C579.2,700.3 574.1,708.8 572.7,712.2" stroke="rgb(255,255,255)" stroke-width="7.4"/>
<path d="M568.6,712.2C568.3,715.6 567.1,726.3 566.6,732.6C566.1,738.9 565.7,747.1 565.5,750.0" stroke="rgb(255,255,255)" stroke-width="9.8"/>
<path d="M601.3,616.1L600.3,636.6" stroke="rgb(255,255,255)" stroke-width="5.0"/>
<path d="M601.3,640.7C601.7,644.1 603.7,652.6 603.4,661.1C603.0,669.6 600.8,681.2 599.3,691.7C597.7,702.3 595.0,719.0 594.2,724.4" stroke="rgb(255,255,255)" stroke-width="9.0"/>
<path d="M615.6,638.6L614.6,661.1" stroke="rgb(255,255,255)" stroke-width="6.5"/>
<path d="M603.4,655.0L615.6,657.0" stroke="rgb(255,255,255)" stroke-width="6.5"/>
<path d="M634.4,610.0C634.4,616.8 634.4,639.0 634.0,650.9C633.6,662.8 633.0,672.7 632.0,681.5C630.9,690.4 628.6,700.3 627.9,704.0" stroke="rgb(255,255,255)" stroke-width="7.4"/>
<path d="M652.4,610.0C652.3,614.1 651.9,627.0 652.0,634.5C652.1,642.0 652.7,651.6 652.8,655.0" stroke="rgb(255,255,255)" stroke-width="6.6"/>
<path d="M670.8,610.0L670.4,640.7" stroke="rgb(255,255,255)" stroke-width="5.7"/>
<path d="M616.6,610.0L616.6,618.2" stroke="rgb(255,255,255)" stroke-width="4.3"/>
<path d="M612.6,685.6L610.5,712.2" stroke="rgb(255,255,255)" stroke-width="4.3"/>
<path d="M624.8,720.4L623.8,734.7" stroke="rgb(255,255,255)" stroke-width="5.0"/>
<path d="M678.0,683.6L675.9,695.8" stroke="rgb(255,255,255)" stroke-width="5.0"/>
<path d="M665.7,724.4L667.7,729.6" stroke="rgb(255,255,255)" stroke-width="5.0"/>
<path d="M680.0,732.6L680.0,742.8" stroke="rgb(255,255,255)" stroke-width="4.3"/>
<path d="M647.3,734.7L649.3,740.8" stroke="rgb(255,255,255)" stroke-width="4.3"/>
<path d="M546.1,742.8L546.5,745.9" stroke="rgb(255,255,255)" stroke-width="4.3"/>
<path d="M576.8,742.8L576.8,750.0" stroke="rgb(209,209,209)" stroke-width="4.3"/>
<path d="M596.2,726.5L601.3,740.8" stroke="rgb(255,255,255)" stroke-width="5.0"/>
<path d="M650.0,679.5L650.0,684.6" stroke="rgb(209,209,209)" stroke-width="3.6"/>
<path d="M648.3,695.8L648.3,704.0" stroke="rgb(209,209,209)" stroke-width="3.6"/>
<path d="M652.4,716.3L653.4,724.4" stroke="rgb(209,209,209)" stroke-width="4.3"/>
<path d="M636.1,740.8L636.1,749.0" stroke="rgb(209,209,209)" stroke-width="4.3"/>
<path d="M662.6,682.6L666.7,682.6" stroke="rgb(209,209,209)" stroke-width="2.9"/>
<path d="M553.3,616.1C553.3,621.9 553.5,642.0 553.3,650.9C553.1,659.7 552.4,666.2 552.3,669.3" stroke="rgb(0,0,0)" stroke-width="6.7"/>
<path d="M549.2,690.7L549.2,702.0" stroke="rgb(0,0,0)" stroke-width="5.0"/>
<path d="M572.7,616.1L572.3,636.6" stroke="rgb(0,0,0)" stroke-width="5.0"/>
<path d="M572.3,638.6L572.7,667.2" stroke="rgb(51,51,51)" stroke-width="4.9"/>
<path d="M571.7,671.3L571.7,697.9" stroke="rgb(0,0,0)" stroke-width="5.0"/>
<path d="M592.7,616.1L592.1,636.6" stroke="rgb(0,0,0)" stroke-width="5.0"/>
<path d="M590.1,638.6L588.0,671.3" stroke="rgb(51,51,51)" stroke-width="4.9"/>
<path d="M589.0,685.6L589.0,691.7" stroke="rgb(0,0,0)" stroke-width="4.3"/>
<path d="M586.0,695.8L583.9,716.3" stroke="rgb(51,51,51)" stroke-width="4.3"/>
<path d="M625.8,610.0L624.8,636.6" stroke="rgb(0,0,0)" stroke-width="5.0"/>
<path d="M623.4,648.8C623.3,652.6 623.0,664.5 622.8,671.3C622.5,678.1 621.9,686.6 621.7,689.7" stroke="rgb(0,0,0)" stroke-width="7.7"/>
<path d="M643.8,610.0C643.9,615.1 644.3,631.1 644.2,640.7C644.1,650.2 643.4,662.8 643.2,667.2" stroke="rgb(0,0,0)" stroke-width="6.7"/>
<path d="M641.2,671.3C640.7,675.4 639.1,688.0 638.1,695.8C637.1,703.7 635.5,714.6 635.0,718.3" stroke="rgb(51,51,51)" stroke-width="4.9"/>
<path d="M661.6,610.0C661.4,615.1 661.1,630.8 660.6,640.7C660.1,650.5 658.9,664.5 658.5,669.3" stroke="rgb(0,0,0)" stroke-width="6.7"/>
<path d="M679.0,630.4C678.8,634.5 678.6,647.5 678.0,655.0C677.3,662.5 675.4,672.0 674.9,675.4" stroke="rgb(0,0,0)" stroke-width="7.7"/>
<path d="M662.6,698.9L662.2,711.2" stroke="rgb(0,0,0)" stroke-width="5.8"/>
<path d="M613.6,730.6L613.2,740.8" stroke="rgb(0,0,0)" stroke-width="5.0"/>
<path d="M679.0,706.1L679.0,721.4" stroke="rgb(0,0,0)" stroke-width="4.3"/>
<path d="M666.7,742.8L668.8,748.0" stroke="rgb(0,0,0)" stroke-width="4.3"/>
<path d="M553.3,724.4L555.3,736.7" stroke="rgb(51,51,51)" stroke-width="3.6"/>
<path d="M634.4,732.6L633.6,750.0" stroke="rgb(51,51,51)" stroke-width="3.6"/>
<path d="M583.9,732.6L589.0,742.8" stroke="rgb(51,51,51)" stroke-width="3.6"/>
<path d="M146.6,772.6C147.4,775.0 150.5,781.1 151.7,786.9C152.9,792.7 153.0,801.2 153.7,807.3C154.4,813.4 155.4,820.9 155.8,823.7" stroke="rgb(255,255,255)" stroke-width="8.2"/>
<path d="M128.2,782.8C128.0,785.5 126.6,794.0 127.2,799.1C127.7,804.2 130.6,811.1 131.2,813.4" stroke="rgb(255,255,255)" stroke-width="7.4"/>
<path d="M126.1,817.5L124.1,831.8" stroke="rgb(255,255,255)" stroke-width="5.8"/>
<path d="M167.4,762.3L169.0,774.6" stroke="rgb(255,255,255)" stroke-width="6.5"/>
<path d="M232.8,769.5L230.4,807.3" stroke="rgb(255,255,255)" stroke-width="5.7"/>
<path d="M205.8,783.8L201.7,801.2" stroke="rgb(255,255,255)" stroke-width="5.0"/>
<path d="M199.7,762.3L209.9,765.4" stroke="rgb(209,209,209)" stroke-width="5.8"/>
<path d="M183.4,815.5L183.8,825.7" stroke="rgb(255,255,255)" stroke-width="5.8"/>
<path d="M244.7,809.4L242.6,824.7" stroke="rgb(255,255,255)" stroke-width="5.0"/>
<path d="M126.1,759.3L132.3,764.4" stroke="rgb(255,255,255)" stroke-width="5.0"/>
<path d="M150.7,746.0L150.7,749.1" stroke="rgb(255,255,255)" stroke-width="5.0"/>
<path d="M213.0,876.8L213.0,881.9" stroke="rgb(255,255,255)" stroke-width="4.3"/>
<path d="M258.0,746.0L258.0,749.1" stroke="rgb(255,255,255)" stroke-width="4.3"/>
<path d="M248.8,750.1L248.8,756.2" stroke="rgb(209,209,209)" stroke-width="3.6"/>
<path d="M138.4,779.7L138.8,793.0" stroke="rgb(0,0,0)" stroke-width="5.0"/>
<path d="M141.5,804.2L140.4,817.5" stroke="rgb(51,51,51)" stroke-width="4.3"/>
<path d="M181.3,757.2L181.3,766.4" stroke="rgb(51,51,51)" stroke-width="5.0"/>
<path d="M179.3,784.8L179.3,788.9" stroke="rgb(51,51,51)" stroke-width="3.6"/>
<path d="M161.9,783.8L161.9,787.9" stroke="rgb(51,51,51)" stroke-width="4.3"/>
<path d="M173.5,805.3L173.1,824.7" stroke="rgb(0,0,0)" stroke-width="5.0"/>
<path d="M192.6,788.9L192.6,794.0" stroke="rgb(51,51,51)" stroke-width="4.3"/>
<path d="M193.6,810.4L193.2,824.7" stroke="rgb(51,51,51)" stroke-width="4.3"/>
<path d="M216.5,814.5L215.0,824.7" stroke="rgb(51,51,51)" stroke-width="4.3"/>
<path d="M254.5,794.0L253.9,807.3" stroke="rgb(0,0,0)" stroke-width="5.0"/>
<path d="M253.9,821.6L253.9,825.7" stroke="rgb(51,51,51)" stroke-width="3.6"/>
<path d="M240.6,750.1L240.6,760.3" stroke="rgb(51,51,51)" stroke-width="3.6"/>
<path d="M240.6,762.3L238.5,797.1" stroke="rgb(92,92,92)" stroke-width="4.1"/>
<path d="M224.2,876.8L224.2,881.9" stroke="rgb(0,0,0)" stroke-width="4.3"/>
<path d="M196.6,774.6L196.6,779.7" stroke="rgb(92,92,92)" stroke-width="3.6"/>
<path d="M272.3,772.6C271.4,775.0 268.3,781.1 267.2,786.9C266.0,792.7 265.4,803.9 265.1,807.3" stroke="rgb(255,255,255)" stroke-width="8.2"/>
<path d="M333.6,767.5L333.6,780.7" stroke="rgb(255,255,255)" stroke-width="6.5"/>
<path d="M311.1,814.5L311.1,825.7" stroke="rgb(255,255,255)" stroke-width="5.8"/>
<path d="M272.3,830.8L271.9,840.0" stroke="rgb(255,255,255)" stroke-width="5.8"/>
<path d="M289.6,809.4L291.7,831.8" stroke="rgb(255,255,255)" stroke-width="4.3"/>
<path d="M300.9,785.9L308.0,797.1" stroke="rgb(209,209,209)" stroke-width="5.0"/>
<path d="M296.8,750.1L295.8,758.3" stroke="rgb(209,209,209)" stroke-width="3.6"/>
<path d="M280.4,750.1L280.4,756.2" stroke="rgb(209,209,209)" stroke-width="3.6"/>
<path d="M323.8,846.1L324.4,860.4" stroke="rgb(255,255,255)" stroke-width="4.3"/>
<path d="M386.7,859.4L387.1,870.7" stroke="rgb(209,209,209)" stroke-width="4.3"/>
<path d="M263.1,750.1L264.1,758.3" stroke="rgb(209,209,209)" stroke-width="3.6"/>
<path d="M374.4,754.2L377.5,754.6" stroke="rgb(255,255,255)" stroke-width="2.9"/>
<path d="M367.3,809.4L367.3,814.5" stroke="rgb(209,209,209)" stroke-width="3.6"/>
<path d="M358.1,762.3L358.1,768.5" stroke="rgb(209,209,209)" stroke-width="2.9"/>
<path d="M339.7,746.0L344.8,758.3" stroke="rgb(51,51,51)" stroke-width="4.3"/>
<path d="M345.8,760.3C346.2,763.0 348.4,770.9 347.9,776.7C347.4,782.4 344.5,789.3 342.8,795.0C341.1,800.8 338.5,808.7 337.7,811.4" stroke="rgb(0,0,0)" stroke-width="7.7"/>
<path d="M336.6,813.4C336.1,817.5 334.3,829.8 333.6,838.0C332.9,846.1 332.7,858.4 332.6,862.5" stroke="rgb(51,51,51)" stroke-width="5.7"/>
<path d="M325.0,763.4L325.0,778.7" stroke="rgb(0,0,0)" stroke-width="5.0"/>
<path d="M304.6,764.4L306.0,776.7" stroke="rgb(0,0,0)" stroke-width="5.0"/>
<path d="M285.5,763.4L285.5,770.5" stroke="rgb(51,51,51)" stroke-width="4.3"/>
<path d="M295.8,798.1L299.9,817.5" stroke="rgb(51,51,51)" stroke-width="4.3"/>
<path d="M300.5,819.6L300.9,842.1" stroke="rgb(0,0,0)" stroke-width="4.3"/>
<path d="M281.5,824.7L281.5,839.0" stroke="rgb(0,0,0)" stroke-width="4.3"/>
<path d="M316.2,835.9L313.5,860.4" stroke="rgb(0,0,0)" stroke-width="5.0"/>
<path d="M265.1,846.1L274.3,860.4" stroke="rgb(0,0,0)" stroke-width="5.0"/>
<path d="M265.1,872.7L265.1,880.9" stroke="rgb(51,51,51)" stroke-width="5.0"/>
<path d="M373.4,781.8L369.3,794.0" stroke="rgb(0,0,0)" stroke-width="5.0"/>
<path d="M393.9,769.5C393.4,772.4 393.0,781.9 390.8,786.9C388.6,791.8 381.9,794.7 380.6,799.1C379.2,803.6 382.3,811.1 382.6,813.4" stroke="rgb(0,0,0)" stroke-width="7.7"/>
<path d="M357.1,813.4L356.1,819.6" stroke="rgb(0,0,0)" stroke-width="5.0"/>
<path d="M352.0,831.8L366.3,832.9" stroke="rgb(51,51,51)" stroke-width="5.8"/>
<path d="M365.3,848.2C364.6,850.9 361.7,859.8 361.2,864.5C360.7,869.3 362.0,874.8 362.2,876.8" stroke="rgb(0,0,0)" stroke-width="6.7"/>
<path d="M398.0,842.1C397.6,845.1 396.4,854.0 395.9,860.4C395.4,866.9 395.1,877.5 394.9,880.9" stroke="rgb(0,0,0)" stroke-width="8.6"/>
<path d="M377.5,847.2L378.5,860.4" stroke="rgb(51,51,51)" stroke-width="3.6"/>
<path d="M385.7,746.0L386.7,753.2" stroke="rgb(0,0,0)" stroke-width="5.0"/>
<path d="M272.3,748.0L270.2,760.3" stroke="rgb(51,51,51)" stroke-width="4.3"/>
<path d="M277.4,792.0L278.4,795.0" stroke="rgb(51,51,51)" stroke-width="3.6"/>
<path d="M366.3,748.0L371.4,762.3" stroke="rgb(51,51,51)" stroke-width="4.3"/>
<path d="M409.2,821.6C408.9,826.0 407.8,838.3 407.2,848.2C406.5,858.1 405.4,875.4 405.1,880.9" stroke="rgb(255,255,255)" stroke-width="7.4"/>
<path d="M412.3,802.2L411.2,815.5" stroke="rgb(209,209,209)" stroke-width="4.3"/>
<path d="M491.6,819.6C491.1,822.6 489.6,830.5 488.9,838.0C488.2,845.5 487.7,860.1 487.5,864.5" stroke="rgb(255,255,255)" stroke-width="7.4"/>
<path d="M481.7,772.6L481.7,789.9" stroke="rgb(255,255,255)" stroke-width="5.8"/>
<path d="M449.0,763.4L449.0,772.6" stroke="rgb(255,255,255)" stroke-width="5.0"/>
<path d="M452.1,750.1L450.7,760.3" stroke="rgb(209,209,209)" stroke-width="3.6"/>
<path d="M428.6,776.7L429.6,786.9" stroke="rgb(255,255,255)" stroke-width="4.3"/>
<path d="M430.7,788.9L431.7,809.4" stroke="rgb(209,209,209)" stroke-width="4.3"/>
<path d="M425.5,830.8L426.2,842.1" stroke="rgb(255,255,255)" stroke-width="5.8"/>
<path d="M505.3,841.0L505.3,856.4" stroke="rgb(255,255,255)" stroke-width="5.0"/>
<path d="M502.2,792.0L502.2,801.2" stroke="rgb(209,209,209)" stroke-width="4.3"/>
<path d="M507.3,771.5L510.4,773.6" stroke="rgb(209,209,209)" stroke-width="3.6"/>
<path d="M472.6,746.0L471.5,754.2" stroke="rgb(255,255,255)" stroke-width="4.3"/>
<path d="M493.0,746.0L493.0,748.0" stroke="rgb(255,255,255)" stroke-width="4.3"/>
<path d="M436.8,855.3L437.8,863.5" stroke="rgb(209,209,209)" stroke-width="3.6"/>
<path d="M522.6,823.7L524.7,842.1" stroke="rgb(209,209,209)" stroke-width="3.6"/>
<path d="M422.5,876.8L422.5,881.9" stroke="rgb(209,209,209)" stroke-width="3.6"/>
<path d="M454.2,868.6L454.2,880.9" stroke="rgb(209,209,209)" stroke-width="3.6"/>
<path d="M528.8,746.0L527.7,758.3" stroke="rgb(209,209,209)" stroke-width="3.6"/>
<path d="M439.2,758.3L438.4,786.9" stroke="rgb(0,0,0)" stroke-width="8.6"/>
<path d="M462.3,746.0L459.3,768.5" stroke="rgb(0,0,0)" stroke-width="5.0"/>
<path d="M421.5,801.2L419.4,823.7" stroke="rgb(0,0,0)" stroke-width="5.0"/>
<path d="M419.4,782.8L420.4,797.1" stroke="rgb(51,51,51)" stroke-width="3.6"/>
<path d="M414.3,762.3L417.4,774.6" stroke="rgb(51,51,51)" stroke-width="3.6"/>
<path d="M404.1,786.9L403.7,807.3" stroke="rgb(51,51,51)" stroke-width="4.3"/>
<path d="M401.6,811.4L401.6,825.7" stroke="rgb(0,0,0)" stroke-width="5.0"/>
<path d="M437.2,817.5L436.8,834.9" stroke="rgb(0,0,0)" stroke-width="5.8"/>
<path d="M453.1,795.0L455.2,807.3" stroke="rgb(51,51,51)" stroke-width="4.3"/>
<path d="M457.2,813.4L459.3,828.8" stroke="rgb(0,0,0)" stroke-width="5.8"/>
<path d="M469.5,780.7L469.5,786.9" stroke="rgb(0,0,0)" stroke-width="4.3"/>
<path d="M490.9,795.0L490.9,807.3" stroke="rgb(0,0,0)" stroke-width="5.0"/>
<path d="M513.4,786.9L513.4,797.1" stroke="rgb(0,0,0)" stroke-width="4.3"/>
<path d="M515.5,809.4L515.5,814.5" stroke="rgb(51,51,51)" stroke-width="3.6"/>
<path d="M518.5,751.1L517.5,766.4" stroke="rgb(0,0,0)" stroke-width="5.0"/>
<path d="M537.3,746.0L536.9,764.4" stroke="rgb(0,0,0)" stroke-width="5.0"/>
<path d="M477.3,831.8L476.6,868.6" stroke="rgb(51,51,51)" stroke-width="5.7"/>
<path d="M515.5,833.9L514.9,853.3" stroke="rgb(0,0,0)" stroke-width="5.0"/>
<path d="M535.9,819.6C535.6,823.3 534.9,834.2 533.9,842.1C532.8,849.9 530.5,862.5 529.8,866.6" stroke="rgb(0,0,0)" stroke-width="7.7"/>
<path d="M416.3,835.9C416.2,840.0 415.7,853.0 415.3,860.4C415.0,867.9 414.5,877.5 414.3,880.9" stroke="rgb(51,51,51)" stroke-width="5.7"/>
<path d="M496.1,859.4L494.4,872.7" stroke="rgb(51,51,51)" stroke-width="4.3"/>
<path d="M447.0,850.2L449.0,852.3" stroke="rgb(51,51,51)" stroke-width="3.6"/>
<path d="M431.1,871.7L431.1,881.9" stroke="rgb(0,0,0)" stroke-width="4.3"/>
<path d="M481.7,746.0L481.7,756.2" stroke="rgb(0,0,0)" stroke-width="4.3"/>
<path d="M504.2,746.0L504.2,752.1" stroke="rgb(51,51,51)" stroke-width="4.3"/>
<path d="M539.0,782.8L539.0,803.2" stroke="rgb(51,51,51)" stroke-width="3.6"/>
<path d="M564.5,746.0L564.5,752.1" stroke="rgb(255,255,255)" stroke-width="5.8"/>
<path d="M565.5,765.4L566.2,776.7" stroke="rgb(255,255,255)" stroke-width="5.0"/>
<path d="M601.3,746.0L601.3,756.2" stroke="rgb(255,255,255)" stroke-width="5.8"/>
<path d="M622.8,746.0L621.7,757.2" stroke="rgb(255,255,255)" stroke-width="5.8"/>
<path d="M638.1,765.4L652.4,763.4" stroke="rgb(255,255,255)" stroke-width="6.5"/>
<path d="M657.5,778.7L662.6,793.0" stroke="rgb(255,255,255)" stroke-width="5.8"/>
<path d="M664.3,795.0L664.7,817.5" stroke="rgb(209,209,209)" stroke-width="5.0"/>
<path d="M662.6,821.6C661.3,824.0 656.7,830.5 654.4,835.9C652.2,841.4 650.2,851.3 649.3,854.3" stroke="rgb(255,255,255)" stroke-width="7.4"/>
<path d="M678.0,752.1L676.9,786.9" stroke="rgb(255,255,255)" stroke-width="6.6"/>
<path d="M575.8,801.2C575.3,803.2 573.7,809.5 572.7,813.4C571.7,817.4 570.1,822.8 569.6,824.7" stroke="rgb(255,255,255)" stroke-width="5.8"/>
<path d="M596.2,798.1L594.2,823.7" stroke="rgb(255,255,255)" stroke-width="5.8"/>
<path d="M614.0,798.1C614.3,801.4 614.3,812.1 615.6,817.5C616.9,823.0 620.7,828.6 621.7,830.8" stroke="rgb(255,255,255)" stroke-width="6.6"/>
<path d="M627.9,811.4L625.8,827.7" stroke="rgb(209,209,209)" stroke-width="3.6"/>
<path d="M580.9,840.0C581.4,842.4 582.9,849.2 583.9,854.3C585.0,859.4 586.8,867.9 587.4,870.7" stroke="rgb(255,255,255)" stroke-width="8.2"/>
<path d="M552.3,817.5L552.7,822.6" stroke="rgb(255,255,255)" stroke-width="5.0"/>
<path d="M586.0,778.7L583.9,795.0" stroke="rgb(209,209,209)" stroke-width="4.3"/>
<path d="M606.4,763.4L607.0,768.5" stroke="rgb(209,209,209)" stroke-width="4.3"/>
<path d="M556.3,851.3L556.3,862.5" stroke="rgb(209,209,209)" stroke-width="4.3"/>
<path d="M559.4,872.7L561.5,878.8" stroke="rgb(209,209,209)" stroke-width="3.6"/>
<path d="M628.3,847.2L629.1,850.2" stroke="rgb(209,209,209)" stroke-width="4.3"/>
<path d="M679.0,866.6L678.0,880.9" stroke="rgb(255,255,255)" stroke-width="5.0"/>
<path d="M640.1,868.6L642.2,881.9" stroke="rgb(209,209,209)" stroke-width="3.6"/>
<path d="M601.3,870.7L601.3,881.9" stroke="rgb(209,209,209)" stroke-width="3.6"/>
<path d="M543.1,746.0L543.1,750.1" stroke="rgb(209,209,209)" stroke-width="3.6"/>
<path d="M544.1,756.2L552.3,766.4" stroke="rgb(51,51,51)" stroke-width="7.2"/>
<path d="M540.0,784.8L541.0,801.2" stroke="rgb(0,0,0)" stroke-width="5.0"/>
<path d="M540.0,821.6L540.0,835.9" stroke="rgb(0,0,0)" stroke-width="5.8"/>
<path d="M544.1,842.1C544.3,845.1 544.8,854.0 545.1,860.4C545.4,866.9 546.0,877.5 546.1,880.9" stroke="rgb(51,51,51)" stroke-width="6.6"/>
<path d="M576.8,767.5L576.8,773.6" stroke="rgb(51,51,51)" stroke-width="4.3"/>
<path d="M596.2,770.5L596.2,779.7" stroke="rgb(51,51,51)" stroke-width="5.0"/>
<path d="M605.0,807.3L605.0,824.7" stroke="rgb(0,0,0)" stroke-width="5.0"/>
<path d="M583.9,806.3L583.9,810.4" stroke="rgb(51,51,51)" stroke-width="4.3"/>
<path d="M563.5,806.3L563.5,810.4" stroke="rgb(51,51,51)" stroke-width="3.6"/>
<path d="M566.6,844.1L567.6,852.3" stroke="rgb(51,51,51)" stroke-width="5.0"/>
<path d="M570.7,856.4L572.7,872.7" stroke="rgb(51,51,51)" stroke-width="5.0"/>
<path d="M595.2,857.4L597.2,864.5" stroke="rgb(51,51,51)" stroke-width="5.0"/>
<path d="M591.1,839.0L592.1,846.1" stroke="rgb(51,51,51)" stroke-width="3.6"/>
<path d="M641.2,839.0L641.2,843.1" stroke="rgb(0,0,0)" stroke-width="5.0"/>
<path d="M637.1,827.7L638.1,833.9" stroke="rgb(51,51,51)" stroke-width="3.6"/>
<path d="M667.7,768.5L667.7,776.7" stroke="rgb(51,51,51)" stroke-width="5.0"/>
<path d="M617.7,776.7L619.7,786.9" stroke="rgb(92,92,92)" stroke-width="5.8"/>
<path d="M633.0,780.7L633.0,786.9" stroke="rgb(92,92,92)" stroke-width="4.3"/>
<path d="M623.8,873.7L623.8,876.8" stroke="rgb(51,51,51)" stroke-width="3.6"/>
<path d="M654.4,872.7L655.5,876.8" stroke="rgb(92,92,92)" stroke-width="3.6"/>
<path d="M588.0,746.0L588.0,750.1" stroke="rgb(51,51,51)" stroke-width="3.6"/>
<path d="M634.0,746.0L635.0,752.1" stroke="rgb(51,51,51)" stroke-width="3.6"/>
<path d="M122.5,334.1L122.5,352.5" stroke="rgb(51,51,51)" stroke-width="3.6"/>
<path d="M127.2,388.2L127.2,391.3" stroke="rgb(51,51,51)" stroke-width="4.3"/>
<path d="M125.1,435.3L125.1,438.3" stroke="rgb(51,51,51)" stroke-width="4.3"/>
<path d="M150.7,332.0L151.7,334.1" stroke="rgb(0,0,0)" stroke-width="3.6"/>
<path d="M188.5,331.6L190.5,333.1" stroke="rgb(0,0,0)" stroke-width="3.6"/>
<path d="M197.7,405.6L197.7,408.7" stroke="rgb(51,51,51)" stroke-width="4.3"/>
<path d="M208.9,395.4L208.9,400.5" stroke="rgb(209,209,209)" stroke-width="3.6"/>
<path d="M196.6,432.2L196.6,436.3" stroke="rgb(209,209,209)" stroke-width="3.6"/>
<path d="M180.3,379.0L180.3,389.3" stroke="rgb(92,92,92)" stroke-width="3.6"/>
<path d="M218.1,410.7L217.1,419.9" stroke="rgb(209,209,209)" stroke-width="3.6"/>
<path d="M168.0,397.4L170.1,407.7" stroke="rgb(51,51,51)" stroke-width="4.3"/>
<path d="M157.8,378.0L157.8,409.7" stroke="rgb(255,255,255)" stroke-width="7.8"/>
<path d="M131.2,445.5L132.3,448.5" stroke="rgb(209,209,209)" stroke-width="4.3"/>
<path d="M140.4,458.8L140.4,462.8" stroke="rgb(209,209,209)" stroke-width="3.6"/>
<path d="M136.3,452.6L146.6,464.9" stroke="rgb(173,173,173)" stroke-width="7.2"/>
<path d="M132.3,410.7L134.3,413.8" stroke="rgb(92,92,92)" stroke-width="4.3"/>
<path d="M380.6,352.5L390.8,368.8" stroke="rgb(51,51,51)" stroke-width="8.6"/>
<path d="M374.4,368.8L382.6,376.0" stroke="rgb(51,51,51)" stroke-width="5.8"/>
<path d="M394.9,350.4L400.0,362.7" stroke="rgb(51,51,51)" stroke-width="5.8"/>
<path d="M386.7,378.0L387.7,381.1" stroke="rgb(173,173,173)" stroke-width="5.0"/>
<path d="M353.0,413.8L355.0,417.9" stroke="rgb(173,173,173)" stroke-width="5.0"/>
<path d="M352.0,389.3L366.3,393.4" stroke="rgb(209,209,209)" stroke-width="4.3"/>
<path d="M327.4,360.7L327.4,381.1" stroke="rgb(51,51,51)" stroke-width="3.6"/>
</g></svg></div>
<div class="abs" style="left:130px;top:339px;width:80.8px;height:36px;background:#fff"></div>
<svg class="abs" style="left:125px;top:335px" width="95" height="45"><text x="9.1" y="31.7" font-size="30.8" font-weight="bold" textLength="75.7" lengthAdjust="spacingAndGlyphs" fill="#1a1718">(110)</text></svg>
<div class="abs" style="left:130.3px;top:824.9px;width:119px;height:49.9px;background:#fff"></div>
<div class="abs" style="left:132.2px;top:859px;width:110.8px;height:12.6px;background:#1a1718"></div>
<svg class="abs" style="left:125px;top:820px" width="130" height="45"><text x="29" y="28.8" font-size="30" font-weight="bold" fill="#1a1718">3</text><text x="56.5" y="28.8" font-size="30" font-family="Liberation Serif" style="font-family:'Liberation Serif',serif" fill="#1a1718">µ</text><text x="73.4" y="28.8" font-size="30" font-weight="bold" fill="#1a1718">m</text></svg>
</body></html>
